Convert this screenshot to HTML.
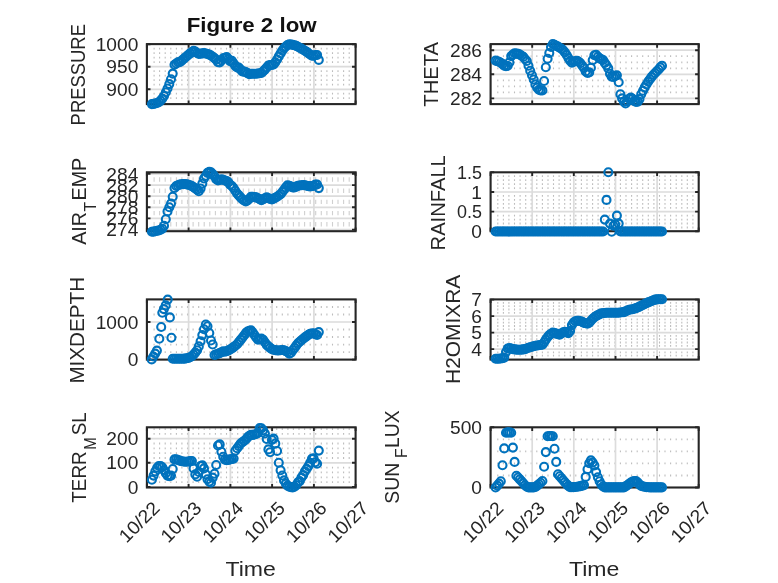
<!DOCTYPE html>
<html lang="en"><head><meta charset="utf-8"><title>Figure 2 low</title>
<style>html,body{margin:0;padding:0;background:#fff}svg{display:block;will-change:transform}</style></head>
<body>
<svg width="778" height="583" viewBox="0 0 778 583" font-family='"Liberation Sans", "DejaVu Sans", sans-serif' fill="#262626">
<rect width="778" height="583" fill="#ffffff"/>
<g id="ax00">
<path d="M154.1 47.8v1.8M154.1 52.3v1.8M154.1 56.8v1.8M154.1 61.3v1.8M154.1 70.3v1.8M154.1 74.8v1.8M154.1 79.3v1.8M154.1 83.8v1.8M154.1 92.8v1.8M154.1 97.3v1.8M159.6 47.8v1.8M159.6 52.3v1.8M159.6 56.8v1.8M159.6 61.3v1.8M159.6 70.3v1.8M159.6 74.8v1.8M159.6 79.3v1.8M159.6 83.8v1.8M159.6 92.8v1.8M159.6 97.3v1.8M165.2 47.8v1.8M165.2 52.3v1.8M165.2 56.8v1.8M165.2 61.3v1.8M165.2 70.3v1.8M165.2 74.8v1.8M165.2 79.3v1.8M165.2 83.8v1.8M165.2 92.8v1.8M165.2 97.3v1.8M170.8 47.8v1.8M170.8 52.3v1.8M170.8 56.8v1.8M170.8 61.3v1.8M170.8 70.3v1.8M170.8 74.8v1.8M170.8 79.3v1.8M170.8 83.8v1.8M170.8 92.8v1.8M170.8 97.3v1.8M176.4 47.8v1.8M176.4 52.3v1.8M176.4 56.8v1.8M176.4 61.3v1.8M176.4 70.3v1.8M176.4 74.8v1.8M176.4 79.3v1.8M176.4 83.8v1.8M176.4 92.8v1.8M176.4 97.3v1.8M181.9 47.8v1.8M181.9 52.3v1.8M181.9 56.8v1.8M181.9 61.3v1.8M181.9 70.3v1.8M181.9 74.8v1.8M181.9 79.3v1.8M181.9 83.8v1.8M181.9 92.8v1.8M181.9 97.3v1.8M187.5 47.8v1.8M187.5 52.3v1.8M187.5 56.8v1.8M187.5 61.3v1.8M187.5 70.3v1.8M187.5 74.8v1.8M187.5 79.3v1.8M187.5 83.8v1.8M187.5 92.8v1.8M187.5 97.3v1.8M193.1 47.8v1.8M193.1 52.3v1.8M193.1 56.8v1.8M193.1 61.3v1.8M193.1 70.3v1.8M193.1 74.8v1.8M193.1 79.3v1.8M193.1 83.8v1.8M193.1 92.8v1.8M193.1 97.3v1.8M198.7 47.8v1.8M198.7 52.3v1.8M198.7 56.8v1.8M198.7 61.3v1.8M198.7 70.3v1.8M198.7 74.8v1.8M198.7 79.3v1.8M198.7 83.8v1.8M198.7 92.8v1.8M198.7 97.3v1.8M204.2 47.8v1.8M204.2 52.3v1.8M204.2 56.8v1.8M204.2 61.3v1.8M204.2 70.3v1.8M204.2 74.8v1.8M204.2 79.3v1.8M204.2 83.8v1.8M204.2 92.8v1.8M204.2 97.3v1.8M209.8 47.8v1.8M209.8 52.3v1.8M209.8 56.8v1.8M209.8 61.3v1.8M209.8 70.3v1.8M209.8 74.8v1.8M209.8 79.3v1.8M209.8 83.8v1.8M209.8 92.8v1.8M209.8 97.3v1.8M215.4 47.8v1.8M215.4 52.3v1.8M215.4 56.8v1.8M215.4 61.3v1.8M215.4 70.3v1.8M215.4 74.8v1.8M215.4 79.3v1.8M215.4 83.8v1.8M215.4 92.8v1.8M215.4 97.3v1.8M221.0 47.8v1.8M221.0 52.3v1.8M221.0 56.8v1.8M221.0 61.3v1.8M221.0 70.3v1.8M221.0 74.8v1.8M221.0 79.3v1.8M221.0 83.8v1.8M221.0 92.8v1.8M221.0 97.3v1.8M226.5 47.8v1.8M226.5 52.3v1.8M226.5 56.8v1.8M226.5 61.3v1.8M226.5 70.3v1.8M226.5 74.8v1.8M226.5 79.3v1.8M226.5 83.8v1.8M226.5 92.8v1.8M226.5 97.3v1.8M232.1 47.8v1.8M232.1 52.3v1.8M232.1 56.8v1.8M232.1 61.3v1.8M232.1 70.3v1.8M232.1 74.8v1.8M232.1 79.3v1.8M232.1 83.8v1.8M232.1 92.8v1.8M232.1 97.3v1.8M237.7 47.8v1.8M237.7 52.3v1.8M237.7 56.8v1.8M237.7 61.3v1.8M237.7 70.3v1.8M237.7 74.8v1.8M237.7 79.3v1.8M237.7 83.8v1.8M237.7 92.8v1.8M237.7 97.3v1.8M243.3 47.8v1.8M243.3 52.3v1.8M243.3 56.8v1.8M243.3 61.3v1.8M243.3 70.3v1.8M243.3 74.8v1.8M243.3 79.3v1.8M243.3 83.8v1.8M243.3 92.8v1.8M243.3 97.3v1.8M248.8 47.8v1.8M248.8 52.3v1.8M248.8 56.8v1.8M248.8 61.3v1.8M248.8 70.3v1.8M248.8 74.8v1.8M248.8 79.3v1.8M248.8 83.8v1.8M248.8 92.8v1.8M248.8 97.3v1.8M254.4 47.8v1.8M254.4 52.3v1.8M254.4 56.8v1.8M254.4 61.3v1.8M254.4 70.3v1.8M254.4 74.8v1.8M254.4 79.3v1.8M254.4 83.8v1.8M254.4 92.8v1.8M254.4 97.3v1.8M260.0 47.8v1.8M260.0 52.3v1.8M260.0 56.8v1.8M260.0 61.3v1.8M260.0 70.3v1.8M260.0 74.8v1.8M260.0 79.3v1.8M260.0 83.8v1.8M260.0 92.8v1.8M260.0 97.3v1.8M265.6 47.8v1.8M265.6 52.3v1.8M265.6 56.8v1.8M265.6 61.3v1.8M265.6 70.3v1.8M265.6 74.8v1.8M265.6 79.3v1.8M265.6 83.8v1.8M265.6 92.8v1.8M265.6 97.3v1.8M271.1 47.8v1.8M271.1 52.3v1.8M271.1 56.8v1.8M271.1 61.3v1.8M271.1 70.3v1.8M271.1 74.8v1.8M271.1 79.3v1.8M271.1 83.8v1.8M271.1 92.8v1.8M271.1 97.3v1.8M276.7 47.8v1.8M276.7 52.3v1.8M276.7 56.8v1.8M276.7 61.3v1.8M276.7 70.3v1.8M276.7 74.8v1.8M276.7 79.3v1.8M276.7 83.8v1.8M276.7 92.8v1.8M276.7 97.3v1.8M282.3 47.8v1.8M282.3 52.3v1.8M282.3 56.8v1.8M282.3 61.3v1.8M282.3 70.3v1.8M282.3 74.8v1.8M282.3 79.3v1.8M282.3 83.8v1.8M282.3 92.8v1.8M282.3 97.3v1.8M287.9 47.8v1.8M287.9 52.3v1.8M287.9 56.8v1.8M287.9 61.3v1.8M287.9 70.3v1.8M287.9 74.8v1.8M287.9 79.3v1.8M287.9 83.8v1.8M287.9 92.8v1.8M287.9 97.3v1.8M293.4 47.8v1.8M293.4 52.3v1.8M293.4 56.8v1.8M293.4 61.3v1.8M293.4 70.3v1.8M293.4 74.8v1.8M293.4 79.3v1.8M293.4 83.8v1.8M293.4 92.8v1.8M293.4 97.3v1.8M299.0 47.8v1.8M299.0 52.3v1.8M299.0 56.8v1.8M299.0 61.3v1.8M299.0 70.3v1.8M299.0 74.8v1.8M299.0 79.3v1.8M299.0 83.8v1.8M299.0 92.8v1.8M299.0 97.3v1.8M304.6 47.8v1.8M304.6 52.3v1.8M304.6 56.8v1.8M304.6 61.3v1.8M304.6 70.3v1.8M304.6 74.8v1.8M304.6 79.3v1.8M304.6 83.8v1.8M304.6 92.8v1.8M304.6 97.3v1.8M310.2 47.8v1.8M310.2 52.3v1.8M310.2 56.8v1.8M310.2 61.3v1.8M310.2 70.3v1.8M310.2 74.8v1.8M310.2 79.3v1.8M310.2 83.8v1.8M310.2 92.8v1.8M310.2 97.3v1.8M315.7 47.8v1.8M315.7 52.3v1.8M315.7 56.8v1.8M315.7 61.3v1.8M315.7 70.3v1.8M315.7 74.8v1.8M315.7 79.3v1.8M315.7 83.8v1.8M315.7 92.8v1.8M315.7 97.3v1.8M321.3 47.8v1.8M321.3 52.3v1.8M321.3 56.8v1.8M321.3 61.3v1.8M321.3 70.3v1.8M321.3 74.8v1.8M321.3 79.3v1.8M321.3 83.8v1.8M321.3 92.8v1.8M321.3 97.3v1.8M326.9 47.8v1.8M326.9 52.3v1.8M326.9 56.8v1.8M326.9 61.3v1.8M326.9 70.3v1.8M326.9 74.8v1.8M326.9 79.3v1.8M326.9 83.8v1.8M326.9 92.8v1.8M326.9 97.3v1.8M332.5 47.8v1.8M332.5 52.3v1.8M332.5 56.8v1.8M332.5 61.3v1.8M332.5 70.3v1.8M332.5 74.8v1.8M332.5 79.3v1.8M332.5 83.8v1.8M332.5 92.8v1.8M332.5 97.3v1.8M338.0 47.8v1.8M338.0 52.3v1.8M338.0 56.8v1.8M338.0 61.3v1.8M338.0 70.3v1.8M338.0 74.8v1.8M338.0 79.3v1.8M338.0 83.8v1.8M338.0 92.8v1.8M338.0 97.3v1.8M343.6 47.8v1.8M343.6 52.3v1.8M343.6 56.8v1.8M343.6 61.3v1.8M343.6 70.3v1.8M343.6 74.8v1.8M343.6 79.3v1.8M343.6 83.8v1.8M343.6 92.8v1.8M343.6 97.3v1.8M349.2 47.8v1.8M349.2 52.3v1.8M349.2 56.8v1.8M349.2 61.3v1.8M349.2 70.3v1.8M349.2 74.8v1.8M349.2 79.3v1.8M349.2 83.8v1.8M349.2 92.8v1.8M349.2 97.3v1.8" stroke="#bdbdbd" stroke-width="1.1" fill="none"/>
<path d="M188.6 44.1V104.1M230.4 44.1V104.1M272.1 44.1V104.1M313.9 44.1V104.1M146.9 66.7H355.6M146.9 89.3H355.6" stroke="#dcdcdc" stroke-width="1.7" fill="none"/>
<path d="M146.9 104.1v-3.6M146.9 44.1v3.6M188.6 104.1v-3.6M188.6 44.1v3.6M230.4 104.1v-3.6M230.4 44.1v3.6M272.1 104.1v-3.6M272.1 44.1v3.6M313.9 104.1v-3.6M313.9 44.1v3.6M355.6 104.1v-3.6M355.6 44.1v3.6M146.9 44.2h3.6M355.6 44.2h-3.6M146.9 66.7h3.6M355.6 66.7h-3.6M146.9 89.3h3.6M355.6 89.3h-3.6" stroke="#262626" stroke-width="1.9" fill="none"/>
<rect x="146.9" y="44.1" width="208.7" height="60.0" fill="none" stroke="#262626" stroke-width="2.1"/>
<g fill="none" stroke="#0072BD" stroke-width="2.1">
<circle cx="151.9" cy="104.1" r="4"/><circle cx="153.6" cy="103.9" r="4"/><circle cx="155.3" cy="103.5" r="4"/><circle cx="157.1" cy="103.0" r="4"/><circle cx="158.8" cy="102.3" r="4"/><circle cx="160.6" cy="100.6" r="4"/><circle cx="162.3" cy="98.6" r="4"/><circle cx="164.0" cy="96.0" r="4"/><circle cx="165.8" cy="92.3" r="4"/><circle cx="167.5" cy="88.5" r="4"/><circle cx="169.3" cy="84.1" r="4"/><circle cx="171.0" cy="79.2" r="4"/><circle cx="172.7" cy="73.6" r="4"/><circle cx="174.5" cy="64.8" r="4"/><circle cx="176.2" cy="63.5" r="4"/><circle cx="178.0" cy="62.3" r="4"/><circle cx="179.7" cy="62.1" r="4"/><circle cx="181.4" cy="60.9" r="4"/><circle cx="183.2" cy="59.3" r="4"/><circle cx="184.9" cy="57.8" r="4"/><circle cx="186.7" cy="56.3" r="4"/><circle cx="188.4" cy="54.8" r="4"/><circle cx="190.1" cy="53.4" r="4"/><circle cx="191.9" cy="52.0" r="4"/><circle cx="193.6" cy="50.7" r="4"/><circle cx="195.3" cy="51.6" r="4"/><circle cx="197.1" cy="53.0" r="4"/><circle cx="198.8" cy="54.0" r="4"/><circle cx="200.6" cy="53.7" r="4"/><circle cx="202.3" cy="53.4" r="4"/><circle cx="204.0" cy="53.1" r="4"/><circle cx="205.8" cy="53.5" r="4"/><circle cx="207.5" cy="54.0" r="4"/><circle cx="209.3" cy="54.6" r="4"/><circle cx="211.0" cy="55.5" r="4"/><circle cx="212.7" cy="56.8" r="4"/><circle cx="214.5" cy="58.1" r="4"/><circle cx="216.2" cy="59.7" r="4"/><circle cx="218.0" cy="62.3" r="4"/><circle cx="219.7" cy="62.5" r="4"/><circle cx="221.4" cy="60.4" r="4"/><circle cx="223.2" cy="58.4" r="4"/><circle cx="224.9" cy="57.7" r="4"/><circle cx="226.7" cy="57.0" r="4"/><circle cx="228.4" cy="59.0" r="4"/><circle cx="230.1" cy="61.2" r="4"/><circle cx="231.9" cy="60.7" r="4"/><circle cx="233.6" cy="63.2" r="4"/><circle cx="235.3" cy="65.9" r="4"/><circle cx="237.1" cy="67.4" r="4"/><circle cx="238.8" cy="67.6" r="4"/><circle cx="240.6" cy="69.5" r="4"/><circle cx="242.3" cy="71.4" r="4"/><circle cx="244.0" cy="71.6" r="4"/><circle cx="245.8" cy="72.0" r="4"/><circle cx="247.5" cy="73.1" r="4"/><circle cx="249.3" cy="74.2" r="4"/><circle cx="251.0" cy="73.8" r="4"/><circle cx="252.7" cy="73.8" r="4"/><circle cx="254.5" cy="73.8" r="4"/><circle cx="256.2" cy="73.8" r="4"/><circle cx="258.0" cy="73.5" r="4"/><circle cx="259.7" cy="73.3" r="4"/><circle cx="261.4" cy="73.0" r="4"/><circle cx="263.2" cy="71.3" r="4"/><circle cx="264.9" cy="69.6" r="4"/><circle cx="266.7" cy="67.5" r="4"/><circle cx="268.4" cy="65.5" r="4"/><circle cx="270.1" cy="65.0" r="4"/><circle cx="271.9" cy="65.0" r="4"/><circle cx="273.6" cy="64.4" r="4"/><circle cx="275.3" cy="62.3" r="4"/><circle cx="277.1" cy="59.5" r="4"/><circle cx="278.8" cy="56.4" r="4"/><circle cx="280.6" cy="53.4" r="4"/><circle cx="282.3" cy="50.6" r="4"/><circle cx="284.0" cy="48.3" r="4"/><circle cx="285.8" cy="46.5" r="4"/><circle cx="287.5" cy="45.0" r="4"/><circle cx="289.3" cy="44.2" r="4"/><circle cx="291.0" cy="44.5" r="4"/><circle cx="292.7" cy="44.9" r="4"/><circle cx="294.5" cy="45.2" r="4"/><circle cx="296.2" cy="45.9" r="4"/><circle cx="298.0" cy="46.8" r="4"/><circle cx="299.7" cy="47.7" r="4"/><circle cx="301.4" cy="48.6" r="4"/><circle cx="303.2" cy="49.7" r="4"/><circle cx="304.9" cy="50.8" r="4"/><circle cx="306.7" cy="51.9" r="4"/><circle cx="308.4" cy="53.2" r="4"/><circle cx="310.1" cy="54.5" r="4"/><circle cx="311.9" cy="55.8" r="4"/><circle cx="313.6" cy="55.8" r="4"/><circle cx="315.3" cy="55.1" r="4"/><circle cx="317.1" cy="55.0" r="4"/><circle cx="318.8" cy="59.9" r="4"/>
</g>
<g font-size="18.6" text-anchor="end">
<text transform="translate(138.3,50.8) scale(1.03,1)">1000</text>
<text transform="translate(138.3,73.3) scale(1.03,1)">950</text>
<text transform="translate(138.3,95.9) scale(1.03,1)">900</text>
</g>
<text transform="translate(84.7,125.4) rotate(-90) scale(0.895,1)" font-size="20.6">PRESSURE</text>
</g>
<g id="ax01">
<path d="M497.8 55.3v1.8M497.8 61.4v1.8M497.8 67.4v1.8M497.8 79.4v1.8M497.8 85.4v1.8M497.8 91.5v1.8M503.4 55.3v1.8M503.4 61.4v1.8M503.4 67.4v1.8M503.4 79.4v1.8M503.4 85.4v1.8M503.4 91.5v1.8M508.9 55.3v1.8M508.9 61.4v1.8M508.9 67.4v1.8M508.9 79.4v1.8M508.9 85.4v1.8M508.9 91.5v1.8M514.5 55.3v1.8M514.5 61.4v1.8M514.5 67.4v1.8M514.5 79.4v1.8M514.5 85.4v1.8M514.5 91.5v1.8M520.1 55.3v1.8M520.1 61.4v1.8M520.1 67.4v1.8M520.1 79.4v1.8M520.1 85.4v1.8M520.1 91.5v1.8M525.7 55.3v1.8M525.7 61.4v1.8M525.7 67.4v1.8M525.7 79.4v1.8M525.7 85.4v1.8M525.7 91.5v1.8M531.2 55.3v1.8M531.2 61.4v1.8M531.2 67.4v1.8M531.2 79.4v1.8M531.2 85.4v1.8M531.2 91.5v1.8M536.8 55.3v1.8M536.8 61.4v1.8M536.8 67.4v1.8M536.8 79.4v1.8M536.8 85.4v1.8M536.8 91.5v1.8M542.4 55.3v1.8M542.4 61.4v1.8M542.4 67.4v1.8M542.4 79.4v1.8M542.4 85.4v1.8M542.4 91.5v1.8M548.0 55.3v1.8M548.0 61.4v1.8M548.0 67.4v1.8M548.0 79.4v1.8M548.0 85.4v1.8M548.0 91.5v1.8M553.5 55.3v1.8M553.5 61.4v1.8M553.5 67.4v1.8M553.5 79.4v1.8M553.5 85.4v1.8M553.5 91.5v1.8M559.1 55.3v1.8M559.1 61.4v1.8M559.1 67.4v1.8M559.1 79.4v1.8M559.1 85.4v1.8M559.1 91.5v1.8M564.7 55.3v1.8M564.7 61.4v1.8M564.7 67.4v1.8M564.7 79.4v1.8M564.7 85.4v1.8M564.7 91.5v1.8M570.3 55.3v1.8M570.3 61.4v1.8M570.3 67.4v1.8M570.3 79.4v1.8M570.3 85.4v1.8M570.3 91.5v1.8M575.8 55.3v1.8M575.8 61.4v1.8M575.8 67.4v1.8M575.8 79.4v1.8M575.8 85.4v1.8M575.8 91.5v1.8M581.4 55.3v1.8M581.4 61.4v1.8M581.4 67.4v1.8M581.4 79.4v1.8M581.4 85.4v1.8M581.4 91.5v1.8M587.0 55.3v1.8M587.0 61.4v1.8M587.0 67.4v1.8M587.0 79.4v1.8M587.0 85.4v1.8M587.0 91.5v1.8M592.6 55.3v1.8M592.6 61.4v1.8M592.6 67.4v1.8M592.6 79.4v1.8M592.6 85.4v1.8M592.6 91.5v1.8M598.1 55.3v1.8M598.1 61.4v1.8M598.1 67.4v1.8M598.1 79.4v1.8M598.1 85.4v1.8M598.1 91.5v1.8M603.7 55.3v1.8M603.7 61.4v1.8M603.7 67.4v1.8M603.7 79.4v1.8M603.7 85.4v1.8M603.7 91.5v1.8M609.3 55.3v1.8M609.3 61.4v1.8M609.3 67.4v1.8M609.3 79.4v1.8M609.3 85.4v1.8M609.3 91.5v1.8M614.9 55.3v1.8M614.9 61.4v1.8M614.9 67.4v1.8M614.9 79.4v1.8M614.9 85.4v1.8M614.9 91.5v1.8M620.4 55.3v1.8M620.4 61.4v1.8M620.4 67.4v1.8M620.4 79.4v1.8M620.4 85.4v1.8M620.4 91.5v1.8M626.0 55.3v1.8M626.0 61.4v1.8M626.0 67.4v1.8M626.0 79.4v1.8M626.0 85.4v1.8M626.0 91.5v1.8M631.6 55.3v1.8M631.6 61.4v1.8M631.6 67.4v1.8M631.6 79.4v1.8M631.6 85.4v1.8M631.6 91.5v1.8M637.2 55.3v1.8M637.2 61.4v1.8M637.2 67.4v1.8M637.2 79.4v1.8M637.2 85.4v1.8M637.2 91.5v1.8M642.7 55.3v1.8M642.7 61.4v1.8M642.7 67.4v1.8M642.7 79.4v1.8M642.7 85.4v1.8M642.7 91.5v1.8M648.3 55.3v1.8M648.3 61.4v1.8M648.3 67.4v1.8M648.3 79.4v1.8M648.3 85.4v1.8M648.3 91.5v1.8M653.9 55.3v1.8M653.9 61.4v1.8M653.9 67.4v1.8M653.9 79.4v1.8M653.9 85.4v1.8M653.9 91.5v1.8M659.5 55.3v1.8M659.5 61.4v1.8M659.5 67.4v1.8M659.5 79.4v1.8M659.5 85.4v1.8M659.5 91.5v1.8M665.0 55.3v1.8M665.0 61.4v1.8M665.0 67.4v1.8M665.0 79.4v1.8M665.0 85.4v1.8M665.0 91.5v1.8M670.6 55.3v1.8M670.6 61.4v1.8M670.6 67.4v1.8M670.6 79.4v1.8M670.6 85.4v1.8M670.6 91.5v1.8M676.2 55.3v1.8M676.2 61.4v1.8M676.2 67.4v1.8M676.2 79.4v1.8M676.2 85.4v1.8M676.2 91.5v1.8M681.8 55.3v1.8M681.8 61.4v1.8M681.8 67.4v1.8M681.8 79.4v1.8M681.8 85.4v1.8M681.8 91.5v1.8M687.3 55.3v1.8M687.3 61.4v1.8M687.3 67.4v1.8M687.3 79.4v1.8M687.3 85.4v1.8M687.3 91.5v1.8M692.9 55.3v1.8M692.9 61.4v1.8M692.9 67.4v1.8M692.9 79.4v1.8M692.9 85.4v1.8M692.9 91.5v1.8" stroke="#bdbdbd" stroke-width="1.1" fill="none"/>
<path d="M532.2 44.1V104.1M573.8 44.1V104.1M615.5 44.1V104.1M657.1 44.1V104.1M490.6 50.2H698.7M490.6 74.3H698.7M490.6 98.4H698.7" stroke="#dcdcdc" stroke-width="1.7" fill="none"/>
<path d="M490.6 104.1v-3.6M490.6 44.1v3.6M532.2 104.1v-3.6M532.2 44.1v3.6M573.8 104.1v-3.6M573.8 44.1v3.6M615.5 104.1v-3.6M615.5 44.1v3.6M657.1 104.1v-3.6M657.1 44.1v3.6M698.7 104.1v-3.6M698.7 44.1v3.6M490.6 50.2h3.6M698.7 50.2h-3.6M490.6 74.3h3.6M698.7 74.3h-3.6M490.6 98.4h3.6M698.7 98.4h-3.6" stroke="#262626" stroke-width="1.9" fill="none"/>
<rect x="490.6" y="44.1" width="208.1" height="60.0" fill="none" stroke="#262626" stroke-width="2.1"/>
<g fill="none" stroke="#0072BD" stroke-width="2.1">
<circle cx="495.6" cy="60.6" r="4"/><circle cx="497.3" cy="61.2" r="4"/><circle cx="499.0" cy="61.8" r="4"/><circle cx="500.8" cy="62.7" r="4"/><circle cx="502.5" cy="64.1" r="4"/><circle cx="504.2" cy="65.6" r="4"/><circle cx="506.0" cy="66.1" r="4"/><circle cx="507.7" cy="65.8" r="4"/><circle cx="509.4" cy="62.4" r="4"/><circle cx="511.2" cy="56.1" r="4"/><circle cx="512.9" cy="54.5" r="4"/><circle cx="514.6" cy="53.3" r="4"/><circle cx="516.4" cy="53.6" r="4"/><circle cx="518.1" cy="53.9" r="4"/><circle cx="519.8" cy="54.6" r="4"/><circle cx="521.6" cy="55.8" r="4"/><circle cx="523.3" cy="56.9" r="4"/><circle cx="525.0" cy="59.0" r="4"/><circle cx="526.8" cy="61.0" r="4"/><circle cx="528.5" cy="65.8" r="4"/><circle cx="530.2" cy="70.8" r="4"/><circle cx="532.0" cy="75.2" r="4"/><circle cx="533.7" cy="79.5" r="4"/><circle cx="535.4" cy="84.4" r="4"/><circle cx="537.2" cy="87.7" r="4"/><circle cx="538.9" cy="89.7" r="4"/><circle cx="540.6" cy="90.5" r="4"/><circle cx="542.4" cy="90.4" r="4"/><circle cx="544.1" cy="81.0" r="4"/><circle cx="545.8" cy="67.3" r="4"/><circle cx="547.6" cy="58.8" r="4"/><circle cx="549.3" cy="53.0" r="4"/><circle cx="551.0" cy="47.0" r="4"/><circle cx="552.8" cy="44.0" r="4"/><circle cx="554.5" cy="44.8" r="4"/><circle cx="556.2" cy="45.7" r="4"/><circle cx="558.0" cy="46.6" r="4"/><circle cx="559.7" cy="47.7" r="4"/><circle cx="561.5" cy="48.8" r="4"/><circle cx="563.2" cy="50.2" r="4"/><circle cx="564.9" cy="52.4" r="4"/><circle cx="566.7" cy="55.0" r="4"/><circle cx="568.4" cy="58.1" r="4"/><circle cx="570.1" cy="60.7" r="4"/><circle cx="571.9" cy="62.7" r="4"/><circle cx="573.6" cy="61.8" r="4"/><circle cx="575.3" cy="61.1" r="4"/><circle cx="577.1" cy="60.7" r="4"/><circle cx="578.8" cy="61.7" r="4"/><circle cx="580.5" cy="63.2" r="4"/><circle cx="582.3" cy="65.8" r="4"/><circle cx="584.0" cy="68.0" r="4"/><circle cx="585.7" cy="71.5" r="4"/><circle cx="587.5" cy="72.9" r="4"/><circle cx="589.2" cy="72.4" r="4"/><circle cx="590.9" cy="67.7" r="4"/><circle cx="592.7" cy="60.1" r="4"/><circle cx="594.4" cy="55.3" r="4"/><circle cx="596.1" cy="54.9" r="4"/><circle cx="597.9" cy="56.7" r="4"/><circle cx="599.6" cy="58.4" r="4"/><circle cx="601.3" cy="59.2" r="4"/><circle cx="603.1" cy="60.0" r="4"/><circle cx="604.8" cy="62.9" r="4"/><circle cx="606.5" cy="65.2" r="4"/><circle cx="608.3" cy="68.4" r="4"/><circle cx="610.0" cy="73.7" r="4"/><circle cx="611.7" cy="76.7" r="4"/><circle cx="613.5" cy="76.9" r="4"/><circle cx="615.2" cy="75.9" r="4"/><circle cx="616.9" cy="75.3" r="4"/><circle cx="618.7" cy="82.3" r="4"/><circle cx="620.4" cy="94.3" r="4"/><circle cx="622.1" cy="98.4" r="4"/><circle cx="623.9" cy="101.7" r="4"/><circle cx="625.6" cy="103.4" r="4"/><circle cx="627.3" cy="101.2" r="4"/><circle cx="629.1" cy="98.7" r="4"/><circle cx="630.8" cy="97.5" r="4"/><circle cx="632.6" cy="98.7" r="4"/><circle cx="634.3" cy="101.0" r="4"/><circle cx="636.0" cy="101.9" r="4"/><circle cx="637.8" cy="101.6" r="4"/><circle cx="639.5" cy="99.1" r="4"/><circle cx="641.2" cy="94.2" r="4"/><circle cx="643.0" cy="90.7" r="4"/><circle cx="644.7" cy="87.4" r="4"/><circle cx="646.4" cy="84.5" r="4"/><circle cx="648.2" cy="81.6" r="4"/><circle cx="649.9" cy="79.2" r="4"/><circle cx="651.6" cy="76.9" r="4"/><circle cx="653.4" cy="74.7" r="4"/><circle cx="655.1" cy="73.0" r="4"/><circle cx="656.8" cy="71.3" r="4"/><circle cx="658.6" cy="69.5" r="4"/><circle cx="660.3" cy="67.4" r="4"/><circle cx="662.0" cy="65.7" r="4"/>
</g>
<g font-size="18.6" text-anchor="end">
<text transform="translate(482.0,56.8) scale(1.03,1)">286</text>
<text transform="translate(482.0,80.9) scale(1.03,1)">284</text>
<text transform="translate(482.0,105.0) scale(1.03,1)">282</text>
</g>
<text transform="translate(437.7,106.7) rotate(-90) scale(0.983,1)" font-size="20.6">THETA</text>
</g>
<g id="ax10">
<path d="M154.1 177.3v4.4M154.1 188.5v4.4M154.1 199.7v4.4M154.1 210.9v4.4M154.1 222.1v4.4M159.6 177.3v4.4M159.6 188.5v4.4M159.6 199.7v4.4M159.6 210.9v4.4M159.6 222.1v4.4M165.2 177.3v4.4M165.2 188.5v4.4M165.2 199.7v4.4M165.2 210.9v4.4M165.2 222.1v4.4M170.8 177.3v4.4M170.8 188.5v4.4M170.8 199.7v4.4M170.8 210.9v4.4M170.8 222.1v4.4M176.4 177.3v4.4M176.4 188.5v4.4M176.4 199.7v4.4M176.4 210.9v4.4M176.4 222.1v4.4M181.9 177.3v4.4M181.9 188.5v4.4M181.9 199.7v4.4M181.9 210.9v4.4M181.9 222.1v4.4M187.5 177.3v4.4M187.5 188.5v4.4M187.5 199.7v4.4M187.5 210.9v4.4M187.5 222.1v4.4M193.1 177.3v4.4M193.1 188.5v4.4M193.1 199.7v4.4M193.1 210.9v4.4M193.1 222.1v4.4M198.7 177.3v4.4M198.7 188.5v4.4M198.7 199.7v4.4M198.7 210.9v4.4M198.7 222.1v4.4M204.2 177.3v4.4M204.2 188.5v4.4M204.2 199.7v4.4M204.2 210.9v4.4M204.2 222.1v4.4M209.8 177.3v4.4M209.8 188.5v4.4M209.8 199.7v4.4M209.8 210.9v4.4M209.8 222.1v4.4M215.4 177.3v4.4M215.4 188.5v4.4M215.4 199.7v4.4M215.4 210.9v4.4M215.4 222.1v4.4M221.0 177.3v4.4M221.0 188.5v4.4M221.0 199.7v4.4M221.0 210.9v4.4M221.0 222.1v4.4M226.5 177.3v4.4M226.5 188.5v4.4M226.5 199.7v4.4M226.5 210.9v4.4M226.5 222.1v4.4M232.1 177.3v4.4M232.1 188.5v4.4M232.1 199.7v4.4M232.1 210.9v4.4M232.1 222.1v4.4M237.7 177.3v4.4M237.7 188.5v4.4M237.7 199.7v4.4M237.7 210.9v4.4M237.7 222.1v4.4M243.3 177.3v4.4M243.3 188.5v4.4M243.3 199.7v4.4M243.3 210.9v4.4M243.3 222.1v4.4M248.8 177.3v4.4M248.8 188.5v4.4M248.8 199.7v4.4M248.8 210.9v4.4M248.8 222.1v4.4M254.4 177.3v4.4M254.4 188.5v4.4M254.4 199.7v4.4M254.4 210.9v4.4M254.4 222.1v4.4M260.0 177.3v4.4M260.0 188.5v4.4M260.0 199.7v4.4M260.0 210.9v4.4M260.0 222.1v4.4M265.6 177.3v4.4M265.6 188.5v4.4M265.6 199.7v4.4M265.6 210.9v4.4M265.6 222.1v4.4M271.1 177.3v4.4M271.1 188.5v4.4M271.1 199.7v4.4M271.1 210.9v4.4M271.1 222.1v4.4M276.7 177.3v4.4M276.7 188.5v4.4M276.7 199.7v4.4M276.7 210.9v4.4M276.7 222.1v4.4M282.3 177.3v4.4M282.3 188.5v4.4M282.3 199.7v4.4M282.3 210.9v4.4M282.3 222.1v4.4M287.9 177.3v4.4M287.9 188.5v4.4M287.9 199.7v4.4M287.9 210.9v4.4M287.9 222.1v4.4M293.4 177.3v4.4M293.4 188.5v4.4M293.4 199.7v4.4M293.4 210.9v4.4M293.4 222.1v4.4M299.0 177.3v4.4M299.0 188.5v4.4M299.0 199.7v4.4M299.0 210.9v4.4M299.0 222.1v4.4M304.6 177.3v4.4M304.6 188.5v4.4M304.6 199.7v4.4M304.6 210.9v4.4M304.6 222.1v4.4M310.2 177.3v4.4M310.2 188.5v4.4M310.2 199.7v4.4M310.2 210.9v4.4M310.2 222.1v4.4M315.7 177.3v4.4M315.7 188.5v4.4M315.7 199.7v4.4M315.7 210.9v4.4M315.7 222.1v4.4M321.3 177.3v4.4M321.3 188.5v4.4M321.3 199.7v4.4M321.3 210.9v4.4M321.3 222.1v4.4M326.9 177.3v4.4M326.9 188.5v4.4M326.9 199.7v4.4M326.9 210.9v4.4M326.9 222.1v4.4M332.5 177.3v4.4M332.5 188.5v4.4M332.5 199.7v4.4M332.5 210.9v4.4M332.5 222.1v4.4M338.0 177.3v4.4M338.0 188.5v4.4M338.0 199.7v4.4M338.0 210.9v4.4M338.0 222.1v4.4M343.6 177.3v4.4M343.6 188.5v4.4M343.6 199.7v4.4M343.6 210.9v4.4M343.6 222.1v4.4M349.2 177.3v4.4M349.2 188.5v4.4M349.2 199.7v4.4M349.2 210.9v4.4M349.2 222.1v4.4" stroke="#d0d0d0" stroke-width="1.1" fill="none"/>
<path d="M188.6 172.3V231.2M230.4 172.3V231.2M272.1 172.3V231.2M313.9 172.3V231.2M146.9 173.9H355.6M146.9 185.1H355.6M146.9 196.2H355.6M146.9 207.3H355.6M146.9 218.4H355.6M146.9 229.6H355.6" stroke="#dcdcdc" stroke-width="1.7" fill="none"/>
<path d="M146.9 231.2v-3.6M146.9 172.3v3.6M188.6 231.2v-3.6M188.6 172.3v3.6M230.4 231.2v-3.6M230.4 172.3v3.6M272.1 231.2v-3.6M272.1 172.3v3.6M313.9 231.2v-3.6M313.9 172.3v3.6M355.6 231.2v-3.6M355.6 172.3v3.6M146.9 173.9h3.6M355.6 173.9h-3.6M146.9 185.1h3.6M355.6 185.1h-3.6M146.9 196.2h3.6M355.6 196.2h-3.6M146.9 207.3h3.6M355.6 207.3h-3.6M146.9 218.4h3.6M355.6 218.4h-3.6M146.9 229.6h3.6M355.6 229.6h-3.6" stroke="#262626" stroke-width="1.9" fill="none"/>
<rect x="146.9" y="172.3" width="208.7" height="58.9" fill="none" stroke="#262626" stroke-width="2.1"/>
<g fill="none" stroke="#0072BD" stroke-width="2.1">
<circle cx="151.9" cy="231.7" r="4"/><circle cx="153.6" cy="231.6" r="4"/><circle cx="155.3" cy="231.2" r="4"/><circle cx="157.1" cy="230.8" r="4"/><circle cx="158.8" cy="230.5" r="4"/><circle cx="160.6" cy="229.8" r="4"/><circle cx="162.3" cy="228.7" r="4"/><circle cx="164.0" cy="225.8" r="4"/><circle cx="165.8" cy="219.2" r="4"/><circle cx="167.5" cy="211.4" r="4"/><circle cx="169.3" cy="207.2" r="4"/><circle cx="171.0" cy="203.6" r="4"/><circle cx="172.7" cy="196.8" r="4"/><circle cx="174.5" cy="188.0" r="4"/><circle cx="176.2" cy="186.0" r="4"/><circle cx="178.0" cy="185.4" r="4"/><circle cx="179.7" cy="184.5" r="4"/><circle cx="181.4" cy="184.3" r="4"/><circle cx="183.2" cy="184.1" r="4"/><circle cx="184.9" cy="184.0" r="4"/><circle cx="186.7" cy="184.4" r="4"/><circle cx="188.4" cy="184.8" r="4"/><circle cx="190.1" cy="185.3" r="4"/><circle cx="191.9" cy="186.1" r="4"/><circle cx="193.6" cy="187.3" r="4"/><circle cx="195.3" cy="188.4" r="4"/><circle cx="197.1" cy="189.8" r="4"/><circle cx="198.8" cy="191.2" r="4"/><circle cx="200.6" cy="188.5" r="4"/><circle cx="202.3" cy="183.6" r="4"/><circle cx="204.0" cy="178.5" r="4"/><circle cx="205.8" cy="175.7" r="4"/><circle cx="207.5" cy="172.9" r="4"/><circle cx="209.3" cy="171.9" r="4"/><circle cx="211.0" cy="172.4" r="4"/><circle cx="212.7" cy="174.1" r="4"/><circle cx="214.5" cy="176.2" r="4"/><circle cx="216.2" cy="179.2" r="4"/><circle cx="218.0" cy="180.5" r="4"/><circle cx="219.7" cy="180.0" r="4"/><circle cx="221.4" cy="179.4" r="4"/><circle cx="223.2" cy="179.8" r="4"/><circle cx="224.9" cy="180.5" r="4"/><circle cx="226.7" cy="181.1" r="4"/><circle cx="228.4" cy="182.3" r="4"/><circle cx="230.1" cy="184.7" r="4"/><circle cx="231.9" cy="186.0" r="4"/><circle cx="233.6" cy="188.0" r="4"/><circle cx="235.3" cy="190.8" r="4"/><circle cx="237.1" cy="193.5" r="4"/><circle cx="238.8" cy="195.4" r="4"/><circle cx="240.6" cy="197.4" r="4"/><circle cx="242.3" cy="199.3" r="4"/><circle cx="244.0" cy="200.5" r="4"/><circle cx="245.8" cy="201.5" r="4"/><circle cx="247.5" cy="200.4" r="4"/><circle cx="249.3" cy="198.7" r="4"/><circle cx="251.0" cy="196.9" r="4"/><circle cx="252.7" cy="196.9" r="4"/><circle cx="254.5" cy="197.1" r="4"/><circle cx="256.2" cy="197.4" r="4"/><circle cx="258.0" cy="198.3" r="4"/><circle cx="259.7" cy="199.3" r="4"/><circle cx="261.4" cy="200.3" r="4"/><circle cx="263.2" cy="199.3" r="4"/><circle cx="264.9" cy="198.3" r="4"/><circle cx="266.7" cy="197.4" r="4"/><circle cx="268.4" cy="198.2" r="4"/><circle cx="270.1" cy="198.9" r="4"/><circle cx="271.9" cy="199.5" r="4"/><circle cx="273.6" cy="198.6" r="4"/><circle cx="275.3" cy="197.7" r="4"/><circle cx="277.1" cy="196.7" r="4"/><circle cx="278.8" cy="195.5" r="4"/><circle cx="280.6" cy="194.3" r="4"/><circle cx="282.3" cy="192.0" r="4"/><circle cx="284.0" cy="189.7" r="4"/><circle cx="285.8" cy="187.4" r="4"/><circle cx="287.5" cy="185.2" r="4"/><circle cx="289.3" cy="185.8" r="4"/><circle cx="291.0" cy="186.6" r="4"/><circle cx="292.7" cy="187.5" r="4"/><circle cx="294.5" cy="187.4" r="4"/><circle cx="296.2" cy="186.6" r="4"/><circle cx="298.0" cy="185.7" r="4"/><circle cx="299.7" cy="185.5" r="4"/><circle cx="301.4" cy="185.3" r="4"/><circle cx="303.2" cy="185.1" r="4"/><circle cx="304.9" cy="185.3" r="4"/><circle cx="306.7" cy="185.7" r="4"/><circle cx="308.4" cy="186.1" r="4"/><circle cx="310.1" cy="186.4" r="4"/><circle cx="311.9" cy="186.1" r="4"/><circle cx="313.6" cy="185.8" r="4"/><circle cx="315.3" cy="184.6" r="4"/><circle cx="317.1" cy="184.5" r="4"/><circle cx="318.8" cy="188.1" r="4"/>
</g>
<g font-size="18.6" text-anchor="end">
<text transform="translate(138.3,180.5) scale(1.03,1)">284</text>
<text transform="translate(138.3,191.7) scale(1.03,1)">282</text>
<text transform="translate(138.3,202.8) scale(1.03,1)">280</text>
<text transform="translate(138.3,213.9) scale(1.03,1)">278</text>
<text transform="translate(138.3,225.0) scale(1.03,1)">276</text>
<text transform="translate(138.3,236.2) scale(1.03,1)">274</text>
</g>
<text transform="translate(85.7,244.4) rotate(-90) scale(0.960,1)" font-size="20.6"><tspan x="-0.5" y="0">AIR</tspan><tspan x="34.4" y="9.9" font-size="16.6">T</tspan><tspan x="45.7" y="0">EMP</tspan></text>
</g>
<g id="ax11">
<path d="M497.8 175.3v1.8M497.8 179.3v1.8M497.8 183.2v1.8M497.8 187.2v1.8M497.8 195.0v1.8M497.8 199.0v1.8M497.8 202.9v1.8M497.8 206.9v1.8M497.8 214.7v1.8M497.8 218.7v1.8M497.8 222.6v1.8M497.8 226.6v1.8M503.4 175.3v1.8M503.4 179.3v1.8M503.4 183.2v1.8M503.4 187.2v1.8M503.4 195.0v1.8M503.4 199.0v1.8M503.4 202.9v1.8M503.4 206.9v1.8M503.4 214.7v1.8M503.4 218.7v1.8M503.4 222.6v1.8M503.4 226.6v1.8M508.9 175.3v1.8M508.9 179.3v1.8M508.9 183.2v1.8M508.9 187.2v1.8M508.9 195.0v1.8M508.9 199.0v1.8M508.9 202.9v1.8M508.9 206.9v1.8M508.9 214.7v1.8M508.9 218.7v1.8M508.9 222.6v1.8M508.9 226.6v1.8M514.5 175.3v1.8M514.5 179.3v1.8M514.5 183.2v1.8M514.5 187.2v1.8M514.5 195.0v1.8M514.5 199.0v1.8M514.5 202.9v1.8M514.5 206.9v1.8M514.5 214.7v1.8M514.5 218.7v1.8M514.5 222.6v1.8M514.5 226.6v1.8M520.1 175.3v1.8M520.1 179.3v1.8M520.1 183.2v1.8M520.1 187.2v1.8M520.1 195.0v1.8M520.1 199.0v1.8M520.1 202.9v1.8M520.1 206.9v1.8M520.1 214.7v1.8M520.1 218.7v1.8M520.1 222.6v1.8M520.1 226.6v1.8M525.7 175.3v1.8M525.7 179.3v1.8M525.7 183.2v1.8M525.7 187.2v1.8M525.7 195.0v1.8M525.7 199.0v1.8M525.7 202.9v1.8M525.7 206.9v1.8M525.7 214.7v1.8M525.7 218.7v1.8M525.7 222.6v1.8M525.7 226.6v1.8M531.2 175.3v1.8M531.2 179.3v1.8M531.2 183.2v1.8M531.2 187.2v1.8M531.2 195.0v1.8M531.2 199.0v1.8M531.2 202.9v1.8M531.2 206.9v1.8M531.2 214.7v1.8M531.2 218.7v1.8M531.2 222.6v1.8M531.2 226.6v1.8M536.8 175.3v1.8M536.8 179.3v1.8M536.8 183.2v1.8M536.8 187.2v1.8M536.8 195.0v1.8M536.8 199.0v1.8M536.8 202.9v1.8M536.8 206.9v1.8M536.8 214.7v1.8M536.8 218.7v1.8M536.8 222.6v1.8M536.8 226.6v1.8M542.4 175.3v1.8M542.4 179.3v1.8M542.4 183.2v1.8M542.4 187.2v1.8M542.4 195.0v1.8M542.4 199.0v1.8M542.4 202.9v1.8M542.4 206.9v1.8M542.4 214.7v1.8M542.4 218.7v1.8M542.4 222.6v1.8M542.4 226.6v1.8M548.0 175.3v1.8M548.0 179.3v1.8M548.0 183.2v1.8M548.0 187.2v1.8M548.0 195.0v1.8M548.0 199.0v1.8M548.0 202.9v1.8M548.0 206.9v1.8M548.0 214.7v1.8M548.0 218.7v1.8M548.0 222.6v1.8M548.0 226.6v1.8M553.5 175.3v1.8M553.5 179.3v1.8M553.5 183.2v1.8M553.5 187.2v1.8M553.5 195.0v1.8M553.5 199.0v1.8M553.5 202.9v1.8M553.5 206.9v1.8M553.5 214.7v1.8M553.5 218.7v1.8M553.5 222.6v1.8M553.5 226.6v1.8M559.1 175.3v1.8M559.1 179.3v1.8M559.1 183.2v1.8M559.1 187.2v1.8M559.1 195.0v1.8M559.1 199.0v1.8M559.1 202.9v1.8M559.1 206.9v1.8M559.1 214.7v1.8M559.1 218.7v1.8M559.1 222.6v1.8M559.1 226.6v1.8M564.7 175.3v1.8M564.7 179.3v1.8M564.7 183.2v1.8M564.7 187.2v1.8M564.7 195.0v1.8M564.7 199.0v1.8M564.7 202.9v1.8M564.7 206.9v1.8M564.7 214.7v1.8M564.7 218.7v1.8M564.7 222.6v1.8M564.7 226.6v1.8M570.3 175.3v1.8M570.3 179.3v1.8M570.3 183.2v1.8M570.3 187.2v1.8M570.3 195.0v1.8M570.3 199.0v1.8M570.3 202.9v1.8M570.3 206.9v1.8M570.3 214.7v1.8M570.3 218.7v1.8M570.3 222.6v1.8M570.3 226.6v1.8M575.8 175.3v1.8M575.8 179.3v1.8M575.8 183.2v1.8M575.8 187.2v1.8M575.8 195.0v1.8M575.8 199.0v1.8M575.8 202.9v1.8M575.8 206.9v1.8M575.8 214.7v1.8M575.8 218.7v1.8M575.8 222.6v1.8M575.8 226.6v1.8M581.4 175.3v1.8M581.4 179.3v1.8M581.4 183.2v1.8M581.4 187.2v1.8M581.4 195.0v1.8M581.4 199.0v1.8M581.4 202.9v1.8M581.4 206.9v1.8M581.4 214.7v1.8M581.4 218.7v1.8M581.4 222.6v1.8M581.4 226.6v1.8M587.0 175.3v1.8M587.0 179.3v1.8M587.0 183.2v1.8M587.0 187.2v1.8M587.0 195.0v1.8M587.0 199.0v1.8M587.0 202.9v1.8M587.0 206.9v1.8M587.0 214.7v1.8M587.0 218.7v1.8M587.0 222.6v1.8M587.0 226.6v1.8M592.6 175.3v1.8M592.6 179.3v1.8M592.6 183.2v1.8M592.6 187.2v1.8M592.6 195.0v1.8M592.6 199.0v1.8M592.6 202.9v1.8M592.6 206.9v1.8M592.6 214.7v1.8M592.6 218.7v1.8M592.6 222.6v1.8M592.6 226.6v1.8M598.1 175.3v1.8M598.1 179.3v1.8M598.1 183.2v1.8M598.1 187.2v1.8M598.1 195.0v1.8M598.1 199.0v1.8M598.1 202.9v1.8M598.1 206.9v1.8M598.1 214.7v1.8M598.1 218.7v1.8M598.1 222.6v1.8M598.1 226.6v1.8M603.7 175.3v1.8M603.7 179.3v1.8M603.7 183.2v1.8M603.7 187.2v1.8M603.7 195.0v1.8M603.7 199.0v1.8M603.7 202.9v1.8M603.7 206.9v1.8M603.7 214.7v1.8M603.7 218.7v1.8M603.7 222.6v1.8M603.7 226.6v1.8M609.3 175.3v1.8M609.3 179.3v1.8M609.3 183.2v1.8M609.3 187.2v1.8M609.3 195.0v1.8M609.3 199.0v1.8M609.3 202.9v1.8M609.3 206.9v1.8M609.3 214.7v1.8M609.3 218.7v1.8M609.3 222.6v1.8M609.3 226.6v1.8M614.9 175.3v1.8M614.9 179.3v1.8M614.9 183.2v1.8M614.9 187.2v1.8M614.9 195.0v1.8M614.9 199.0v1.8M614.9 202.9v1.8M614.9 206.9v1.8M614.9 214.7v1.8M614.9 218.7v1.8M614.9 222.6v1.8M614.9 226.6v1.8M620.4 175.3v1.8M620.4 179.3v1.8M620.4 183.2v1.8M620.4 187.2v1.8M620.4 195.0v1.8M620.4 199.0v1.8M620.4 202.9v1.8M620.4 206.9v1.8M620.4 214.7v1.8M620.4 218.7v1.8M620.4 222.6v1.8M620.4 226.6v1.8M626.0 175.3v1.8M626.0 179.3v1.8M626.0 183.2v1.8M626.0 187.2v1.8M626.0 195.0v1.8M626.0 199.0v1.8M626.0 202.9v1.8M626.0 206.9v1.8M626.0 214.7v1.8M626.0 218.7v1.8M626.0 222.6v1.8M626.0 226.6v1.8M631.6 175.3v1.8M631.6 179.3v1.8M631.6 183.2v1.8M631.6 187.2v1.8M631.6 195.0v1.8M631.6 199.0v1.8M631.6 202.9v1.8M631.6 206.9v1.8M631.6 214.7v1.8M631.6 218.7v1.8M631.6 222.6v1.8M631.6 226.6v1.8M637.2 175.3v1.8M637.2 179.3v1.8M637.2 183.2v1.8M637.2 187.2v1.8M637.2 195.0v1.8M637.2 199.0v1.8M637.2 202.9v1.8M637.2 206.9v1.8M637.2 214.7v1.8M637.2 218.7v1.8M637.2 222.6v1.8M637.2 226.6v1.8M642.7 175.3v1.8M642.7 179.3v1.8M642.7 183.2v1.8M642.7 187.2v1.8M642.7 195.0v1.8M642.7 199.0v1.8M642.7 202.9v1.8M642.7 206.9v1.8M642.7 214.7v1.8M642.7 218.7v1.8M642.7 222.6v1.8M642.7 226.6v1.8M648.3 175.3v1.8M648.3 179.3v1.8M648.3 183.2v1.8M648.3 187.2v1.8M648.3 195.0v1.8M648.3 199.0v1.8M648.3 202.9v1.8M648.3 206.9v1.8M648.3 214.7v1.8M648.3 218.7v1.8M648.3 222.6v1.8M648.3 226.6v1.8M653.9 175.3v1.8M653.9 179.3v1.8M653.9 183.2v1.8M653.9 187.2v1.8M653.9 195.0v1.8M653.9 199.0v1.8M653.9 202.9v1.8M653.9 206.9v1.8M653.9 214.7v1.8M653.9 218.7v1.8M653.9 222.6v1.8M653.9 226.6v1.8M659.5 175.3v1.8M659.5 179.3v1.8M659.5 183.2v1.8M659.5 187.2v1.8M659.5 195.0v1.8M659.5 199.0v1.8M659.5 202.9v1.8M659.5 206.9v1.8M659.5 214.7v1.8M659.5 218.7v1.8M659.5 222.6v1.8M659.5 226.6v1.8M665.0 175.3v1.8M665.0 179.3v1.8M665.0 183.2v1.8M665.0 187.2v1.8M665.0 195.0v1.8M665.0 199.0v1.8M665.0 202.9v1.8M665.0 206.9v1.8M665.0 214.7v1.8M665.0 218.7v1.8M665.0 222.6v1.8M665.0 226.6v1.8M670.6 175.3v1.8M670.6 179.3v1.8M670.6 183.2v1.8M670.6 187.2v1.8M670.6 195.0v1.8M670.6 199.0v1.8M670.6 202.9v1.8M670.6 206.9v1.8M670.6 214.7v1.8M670.6 218.7v1.8M670.6 222.6v1.8M670.6 226.6v1.8M676.2 175.3v1.8M676.2 179.3v1.8M676.2 183.2v1.8M676.2 187.2v1.8M676.2 195.0v1.8M676.2 199.0v1.8M676.2 202.9v1.8M676.2 206.9v1.8M676.2 214.7v1.8M676.2 218.7v1.8M676.2 222.6v1.8M676.2 226.6v1.8M681.8 175.3v1.8M681.8 179.3v1.8M681.8 183.2v1.8M681.8 187.2v1.8M681.8 195.0v1.8M681.8 199.0v1.8M681.8 202.9v1.8M681.8 206.9v1.8M681.8 214.7v1.8M681.8 218.7v1.8M681.8 222.6v1.8M681.8 226.6v1.8M687.3 175.3v1.8M687.3 179.3v1.8M687.3 183.2v1.8M687.3 187.2v1.8M687.3 195.0v1.8M687.3 199.0v1.8M687.3 202.9v1.8M687.3 206.9v1.8M687.3 214.7v1.8M687.3 218.7v1.8M687.3 222.6v1.8M687.3 226.6v1.8M692.9 175.3v1.8M692.9 179.3v1.8M692.9 183.2v1.8M692.9 187.2v1.8M692.9 195.0v1.8M692.9 199.0v1.8M692.9 202.9v1.8M692.9 206.9v1.8M692.9 214.7v1.8M692.9 218.7v1.8M692.9 222.6v1.8M692.9 226.6v1.8" stroke="#bdbdbd" stroke-width="1.1" fill="none"/>
<path d="M532.2 172.3V231.2M573.8 172.3V231.2M615.5 172.3V231.2M657.1 172.3V231.2M490.6 192.0H698.7M490.6 211.6H698.7" stroke="#dcdcdc" stroke-width="1.7" fill="none"/>
<path d="M490.6 231.2v-3.6M490.6 172.3v3.6M532.2 231.2v-3.6M532.2 172.3v3.6M573.8 231.2v-3.6M573.8 172.3v3.6M615.5 231.2v-3.6M615.5 172.3v3.6M657.1 231.2v-3.6M657.1 172.3v3.6M698.7 231.2v-3.6M698.7 172.3v3.6M490.6 172.3h3.6M698.7 172.3h-3.6M490.6 192.0h3.6M698.7 192.0h-3.6M490.6 211.6h3.6M698.7 211.6h-3.6M490.6 231.2h3.6M698.7 231.2h-3.6" stroke="#262626" stroke-width="1.9" fill="none"/>
<rect x="490.6" y="172.3" width="208.1" height="58.9" fill="none" stroke="#262626" stroke-width="2.1"/>
<g fill="none" stroke="#0072BD" stroke-width="2.1">
<circle cx="495.6" cy="231.5" r="4"/><circle cx="497.3" cy="231.5" r="4"/><circle cx="499.0" cy="231.5" r="4"/><circle cx="500.8" cy="231.5" r="4"/><circle cx="502.5" cy="231.5" r="4"/><circle cx="504.2" cy="231.5" r="4"/><circle cx="506.0" cy="231.5" r="4"/><circle cx="507.7" cy="231.5" r="4"/><circle cx="509.4" cy="231.5" r="4"/><circle cx="511.2" cy="231.5" r="4"/><circle cx="512.9" cy="231.5" r="4"/><circle cx="514.6" cy="231.5" r="4"/><circle cx="516.4" cy="231.5" r="4"/><circle cx="518.1" cy="231.5" r="4"/><circle cx="519.8" cy="231.5" r="4"/><circle cx="521.6" cy="231.5" r="4"/><circle cx="523.3" cy="231.5" r="4"/><circle cx="525.0" cy="231.5" r="4"/><circle cx="526.8" cy="231.5" r="4"/><circle cx="528.5" cy="231.5" r="4"/><circle cx="530.2" cy="231.5" r="4"/><circle cx="532.0" cy="231.5" r="4"/><circle cx="533.7" cy="231.5" r="4"/><circle cx="535.4" cy="231.5" r="4"/><circle cx="537.2" cy="231.5" r="4"/><circle cx="538.9" cy="231.5" r="4"/><circle cx="540.6" cy="231.5" r="4"/><circle cx="542.4" cy="231.5" r="4"/><circle cx="544.1" cy="231.5" r="4"/><circle cx="545.8" cy="231.5" r="4"/><circle cx="547.6" cy="231.5" r="4"/><circle cx="549.3" cy="231.5" r="4"/><circle cx="551.0" cy="231.5" r="4"/><circle cx="552.8" cy="231.5" r="4"/><circle cx="554.5" cy="231.5" r="4"/><circle cx="556.2" cy="231.5" r="4"/><circle cx="558.0" cy="231.5" r="4"/><circle cx="559.7" cy="231.5" r="4"/><circle cx="561.5" cy="231.5" r="4"/><circle cx="563.2" cy="231.5" r="4"/><circle cx="564.9" cy="231.5" r="4"/><circle cx="566.7" cy="231.5" r="4"/><circle cx="568.4" cy="231.5" r="4"/><circle cx="570.1" cy="231.5" r="4"/><circle cx="571.9" cy="231.5" r="4"/><circle cx="573.6" cy="231.5" r="4"/><circle cx="575.3" cy="231.5" r="4"/><circle cx="577.1" cy="231.5" r="4"/><circle cx="578.8" cy="231.5" r="4"/><circle cx="580.5" cy="231.5" r="4"/><circle cx="582.3" cy="231.5" r="4"/><circle cx="584.0" cy="231.5" r="4"/><circle cx="585.7" cy="231.5" r="4"/><circle cx="587.5" cy="231.5" r="4"/><circle cx="589.2" cy="231.5" r="4"/><circle cx="590.9" cy="231.5" r="4"/><circle cx="592.7" cy="231.5" r="4"/><circle cx="594.4" cy="231.5" r="4"/><circle cx="596.1" cy="231.5" r="4"/><circle cx="597.9" cy="231.5" r="4"/><circle cx="599.6" cy="231.5" r="4"/><circle cx="601.3" cy="231.5" r="4"/><circle cx="603.1" cy="231.5" r="4"/><circle cx="604.8" cy="219.6" r="4"/><circle cx="606.5" cy="199.9" r="4"/><circle cx="608.3" cy="172.2" r="4"/><circle cx="610.0" cy="223.6" r="4"/><circle cx="611.7" cy="231.7" r="4"/><circle cx="613.5" cy="225.8" r="4"/><circle cx="615.2" cy="224.4" r="4"/><circle cx="616.9" cy="215.6" r="4"/><circle cx="618.7" cy="223.6" r="4"/><circle cx="620.4" cy="231.5" r="4"/><circle cx="622.1" cy="231.5" r="4"/><circle cx="623.9" cy="231.5" r="4"/><circle cx="625.6" cy="231.5" r="4"/><circle cx="627.3" cy="231.5" r="4"/><circle cx="629.1" cy="231.5" r="4"/><circle cx="630.8" cy="231.5" r="4"/><circle cx="632.6" cy="231.5" r="4"/><circle cx="634.3" cy="231.5" r="4"/><circle cx="636.0" cy="231.5" r="4"/><circle cx="637.8" cy="231.5" r="4"/><circle cx="639.5" cy="231.5" r="4"/><circle cx="641.2" cy="231.5" r="4"/><circle cx="643.0" cy="231.5" r="4"/><circle cx="644.7" cy="231.5" r="4"/><circle cx="646.4" cy="231.5" r="4"/><circle cx="648.2" cy="231.5" r="4"/><circle cx="649.9" cy="231.5" r="4"/><circle cx="651.6" cy="231.5" r="4"/><circle cx="653.4" cy="231.5" r="4"/><circle cx="655.1" cy="231.5" r="4"/><circle cx="656.8" cy="231.5" r="4"/><circle cx="658.6" cy="231.5" r="4"/><circle cx="660.3" cy="231.5" r="4"/><circle cx="662.0" cy="231.5" r="4"/>
</g>
<g font-size="18.6" text-anchor="end">
<text transform="translate(482.0,178.9) scale(0.965,1)">1.5</text>
<text transform="translate(482.0,198.6) scale(1.03,1)">1</text>
<text transform="translate(482.0,218.2) scale(0.965,1)">0.5</text>
<text transform="translate(482.0,237.8) scale(1.03,1)">0</text>
</g>
<text transform="translate(444.9,250.4) rotate(-90) scale(0.979,1)" font-size="20.6">RAINFALL</text>
</g>
<g id="ax20">
<path d="M154.1 306.1v1.8M154.1 313.6v1.8M154.1 328.6v1.8M154.1 336.1v1.8M154.1 343.7v1.8M154.1 351.2v1.8M159.6 306.1v1.8M159.6 313.6v1.8M159.6 328.6v1.8M159.6 336.1v1.8M159.6 343.7v1.8M159.6 351.2v1.8M165.2 306.1v1.8M165.2 313.6v1.8M165.2 328.6v1.8M165.2 336.1v1.8M165.2 343.7v1.8M165.2 351.2v1.8M170.8 306.1v1.8M170.8 313.6v1.8M170.8 328.6v1.8M170.8 336.1v1.8M170.8 343.7v1.8M170.8 351.2v1.8M176.4 306.1v1.8M176.4 313.6v1.8M176.4 328.6v1.8M176.4 336.1v1.8M176.4 343.7v1.8M176.4 351.2v1.8M181.9 306.1v1.8M181.9 313.6v1.8M181.9 328.6v1.8M181.9 336.1v1.8M181.9 343.7v1.8M181.9 351.2v1.8M187.5 306.1v1.8M187.5 313.6v1.8M187.5 328.6v1.8M187.5 336.1v1.8M187.5 343.7v1.8M187.5 351.2v1.8M193.1 306.1v1.8M193.1 313.6v1.8M193.1 328.6v1.8M193.1 336.1v1.8M193.1 343.7v1.8M193.1 351.2v1.8M198.7 306.1v1.8M198.7 313.6v1.8M198.7 328.6v1.8M198.7 336.1v1.8M198.7 343.7v1.8M198.7 351.2v1.8M204.2 306.1v1.8M204.2 313.6v1.8M204.2 328.6v1.8M204.2 336.1v1.8M204.2 343.7v1.8M204.2 351.2v1.8M209.8 306.1v1.8M209.8 313.6v1.8M209.8 328.6v1.8M209.8 336.1v1.8M209.8 343.7v1.8M209.8 351.2v1.8M215.4 306.1v1.8M215.4 313.6v1.8M215.4 328.6v1.8M215.4 336.1v1.8M215.4 343.7v1.8M215.4 351.2v1.8M221.0 306.1v1.8M221.0 313.6v1.8M221.0 328.6v1.8M221.0 336.1v1.8M221.0 343.7v1.8M221.0 351.2v1.8M226.5 306.1v1.8M226.5 313.6v1.8M226.5 328.6v1.8M226.5 336.1v1.8M226.5 343.7v1.8M226.5 351.2v1.8M232.1 306.1v1.8M232.1 313.6v1.8M232.1 328.6v1.8M232.1 336.1v1.8M232.1 343.7v1.8M232.1 351.2v1.8M237.7 306.1v1.8M237.7 313.6v1.8M237.7 328.6v1.8M237.7 336.1v1.8M237.7 343.7v1.8M237.7 351.2v1.8M243.3 306.1v1.8M243.3 313.6v1.8M243.3 328.6v1.8M243.3 336.1v1.8M243.3 343.7v1.8M243.3 351.2v1.8M248.8 306.1v1.8M248.8 313.6v1.8M248.8 328.6v1.8M248.8 336.1v1.8M248.8 343.7v1.8M248.8 351.2v1.8M254.4 306.1v1.8M254.4 313.6v1.8M254.4 328.6v1.8M254.4 336.1v1.8M254.4 343.7v1.8M254.4 351.2v1.8M260.0 306.1v1.8M260.0 313.6v1.8M260.0 328.6v1.8M260.0 336.1v1.8M260.0 343.7v1.8M260.0 351.2v1.8M265.6 306.1v1.8M265.6 313.6v1.8M265.6 328.6v1.8M265.6 336.1v1.8M265.6 343.7v1.8M265.6 351.2v1.8M271.1 306.1v1.8M271.1 313.6v1.8M271.1 328.6v1.8M271.1 336.1v1.8M271.1 343.7v1.8M271.1 351.2v1.8M276.7 306.1v1.8M276.7 313.6v1.8M276.7 328.6v1.8M276.7 336.1v1.8M276.7 343.7v1.8M276.7 351.2v1.8M282.3 306.1v1.8M282.3 313.6v1.8M282.3 328.6v1.8M282.3 336.1v1.8M282.3 343.7v1.8M282.3 351.2v1.8M287.9 306.1v1.8M287.9 313.6v1.8M287.9 328.6v1.8M287.9 336.1v1.8M287.9 343.7v1.8M287.9 351.2v1.8M293.4 306.1v1.8M293.4 313.6v1.8M293.4 328.6v1.8M293.4 336.1v1.8M293.4 343.7v1.8M293.4 351.2v1.8M299.0 306.1v1.8M299.0 313.6v1.8M299.0 328.6v1.8M299.0 336.1v1.8M299.0 343.7v1.8M299.0 351.2v1.8M304.6 306.1v1.8M304.6 313.6v1.8M304.6 328.6v1.8M304.6 336.1v1.8M304.6 343.7v1.8M304.6 351.2v1.8M310.2 306.1v1.8M310.2 313.6v1.8M310.2 328.6v1.8M310.2 336.1v1.8M310.2 343.7v1.8M310.2 351.2v1.8M315.7 306.1v1.8M315.7 313.6v1.8M315.7 328.6v1.8M315.7 336.1v1.8M315.7 343.7v1.8M315.7 351.2v1.8M321.3 306.1v1.8M321.3 313.6v1.8M321.3 328.6v1.8M321.3 336.1v1.8M321.3 343.7v1.8M321.3 351.2v1.8M326.9 306.1v1.8M326.9 313.6v1.8M326.9 328.6v1.8M326.9 336.1v1.8M326.9 343.7v1.8M326.9 351.2v1.8M332.5 306.1v1.8M332.5 313.6v1.8M332.5 328.6v1.8M332.5 336.1v1.8M332.5 343.7v1.8M332.5 351.2v1.8M338.0 306.1v1.8M338.0 313.6v1.8M338.0 328.6v1.8M338.0 336.1v1.8M338.0 343.7v1.8M338.0 351.2v1.8M343.6 306.1v1.8M343.6 313.6v1.8M343.6 328.6v1.8M343.6 336.1v1.8M343.6 343.7v1.8M343.6 351.2v1.8M349.2 306.1v1.8M349.2 313.6v1.8M349.2 328.6v1.8M349.2 336.1v1.8M349.2 343.7v1.8M349.2 351.2v1.8" stroke="#bdbdbd" stroke-width="1.1" fill="none"/>
<path d="M188.6 299.4V359.6M230.4 299.4V359.6M272.1 299.4V359.6M313.9 299.4V359.6M146.9 322.0H355.6" stroke="#dcdcdc" stroke-width="1.7" fill="none"/>
<path d="M146.9 359.6v-3.6M146.9 299.4v3.6M188.6 359.6v-3.6M188.6 299.4v3.6M230.4 359.6v-3.6M230.4 299.4v3.6M272.1 359.6v-3.6M272.1 299.4v3.6M313.9 359.6v-3.6M313.9 299.4v3.6M355.6 359.6v-3.6M355.6 299.4v3.6M146.9 322.0h3.6M355.6 322.0h-3.6M146.9 359.6h3.6M355.6 359.6h-3.6" stroke="#262626" stroke-width="1.9" fill="none"/>
<rect x="146.9" y="299.4" width="208.7" height="60.2" fill="none" stroke="#262626" stroke-width="2.1"/>
<g fill="none" stroke="#0072BD" stroke-width="2.1">
<circle cx="151.7" cy="359.4" r="4"/><circle cx="153.4" cy="356.5" r="4"/><circle cx="155.2" cy="353.6" r="4"/><circle cx="156.9" cy="350.6" r="4"/><circle cx="159.3" cy="338.7" r="4"/><circle cx="161.2" cy="327.0" r="4"/><circle cx="162.3" cy="312.7" r="4"/><circle cx="163.9" cy="309.1" r="4"/><circle cx="165.7" cy="305.4" r="4"/><circle cx="167.7" cy="299.6" r="4"/><circle cx="169.9" cy="317.4" r="4"/><circle cx="171.4" cy="337.8" r="4"/><circle cx="172.7" cy="358.8" r="4"/><circle cx="174.5" cy="358.8" r="4"/><circle cx="176.2" cy="358.8" r="4"/><circle cx="178.0" cy="358.8" r="4"/><circle cx="179.7" cy="358.8" r="4"/><circle cx="181.4" cy="358.8" r="4"/><circle cx="183.2" cy="358.8" r="4"/><circle cx="184.9" cy="358.6" r="4"/><circle cx="186.7" cy="358.3" r="4"/><circle cx="188.4" cy="358.0" r="4"/><circle cx="190.1" cy="357.2" r="4"/><circle cx="191.9" cy="356.2" r="4"/><circle cx="193.6" cy="354.6" r="4"/><circle cx="195.3" cy="352.6" r="4"/><circle cx="197.1" cy="350.3" r="4"/><circle cx="198.8" cy="346.4" r="4"/><circle cx="200.6" cy="341.3" r="4"/><circle cx="202.3" cy="335.1" r="4"/><circle cx="204.0" cy="329.2" r="4"/><circle cx="205.8" cy="324.5" r="4"/><circle cx="207.5" cy="326.3" r="4"/><circle cx="209.3" cy="333.0" r="4"/><circle cx="211.0" cy="340.5" r="4"/><circle cx="212.7" cy="344.5" r="4"/><circle cx="214.5" cy="355.0" r="4"/><circle cx="216.2" cy="354.4" r="4"/><circle cx="218.0" cy="353.8" r="4"/><circle cx="219.7" cy="353.1" r="4"/><circle cx="221.4" cy="352.2" r="4"/><circle cx="223.2" cy="351.4" r="4"/><circle cx="224.9" cy="351.8" r="4"/><circle cx="226.7" cy="351.3" r="4"/><circle cx="228.4" cy="350.4" r="4"/><circle cx="230.1" cy="349.5" r="4"/><circle cx="231.9" cy="348.4" r="4"/><circle cx="233.6" cy="347.1" r="4"/><circle cx="235.3" cy="345.8" r="4"/><circle cx="237.1" cy="344.3" r="4"/><circle cx="238.8" cy="342.1" r="4"/><circle cx="240.6" cy="339.9" r="4"/><circle cx="242.3" cy="337.8" r="4"/><circle cx="244.0" cy="335.5" r="4"/><circle cx="245.8" cy="333.1" r="4"/><circle cx="247.5" cy="331.5" r="4"/><circle cx="249.3" cy="330.9" r="4"/><circle cx="251.0" cy="330.3" r="4"/><circle cx="252.7" cy="332.4" r="4"/><circle cx="254.5" cy="335.0" r="4"/><circle cx="256.2" cy="337.5" r="4"/><circle cx="258.0" cy="339.7" r="4"/><circle cx="259.7" cy="339.1" r="4"/><circle cx="261.4" cy="338.5" r="4"/><circle cx="263.2" cy="339.7" r="4"/><circle cx="264.9" cy="342.3" r="4"/><circle cx="266.7" cy="344.9" r="4"/><circle cx="268.4" cy="346.4" r="4"/><circle cx="270.1" cy="347.9" r="4"/><circle cx="271.9" cy="349.2" r="4"/><circle cx="273.6" cy="349.7" r="4"/><circle cx="275.3" cy="350.1" r="4"/><circle cx="277.1" cy="350.5" r="4"/><circle cx="278.8" cy="350.5" r="4"/><circle cx="280.6" cy="350.3" r="4"/><circle cx="282.3" cy="350.0" r="4"/><circle cx="284.0" cy="350.3" r="4"/><circle cx="285.8" cy="351.1" r="4"/><circle cx="287.5" cy="352.0" r="4"/><circle cx="289.3" cy="353.6" r="4"/><circle cx="291.0" cy="352.8" r="4"/><circle cx="292.7" cy="350.3" r="4"/><circle cx="294.5" cy="348.0" r="4"/><circle cx="296.2" cy="345.6" r="4"/><circle cx="298.0" cy="343.3" r="4"/><circle cx="299.7" cy="341.8" r="4"/><circle cx="301.4" cy="340.3" r="4"/><circle cx="303.2" cy="338.8" r="4"/><circle cx="304.9" cy="337.4" r="4"/><circle cx="306.7" cy="336.1" r="4"/><circle cx="308.4" cy="334.8" r="4"/><circle cx="310.1" cy="333.8" r="4"/><circle cx="311.9" cy="333.5" r="4"/><circle cx="313.6" cy="333.2" r="4"/><circle cx="315.3" cy="334.2" r="4"/><circle cx="317.1" cy="335.0" r="4"/><circle cx="318.8" cy="332.1" r="4"/>
</g>
<g font-size="18.6" text-anchor="end">
<text transform="translate(138.3,328.6) scale(1.03,1)">1000</text>
<text transform="translate(138.3,366.2) scale(1.03,1)">0</text>
</g>
<text transform="translate(83.5,383.6) rotate(-90) scale(1.003,1)" font-size="20.6">MIXDEPTH</text>
</g>
<g id="ax21">
<path d="M497.8 302.0v1.8M497.8 305.3v1.8M497.8 308.6v1.8M497.8 311.9v1.8M497.8 318.5v1.8M497.8 321.8v1.8M497.8 325.1v1.8M497.8 328.4v1.8M497.8 335.0v1.8M497.8 338.3v1.8M497.8 341.6v1.8M497.8 344.9v1.8M497.8 351.5v1.8M497.8 354.8v1.8M503.4 302.0v1.8M503.4 305.3v1.8M503.4 308.6v1.8M503.4 311.9v1.8M503.4 318.5v1.8M503.4 321.8v1.8M503.4 325.1v1.8M503.4 328.4v1.8M503.4 335.0v1.8M503.4 338.3v1.8M503.4 341.6v1.8M503.4 344.9v1.8M503.4 351.5v1.8M503.4 354.8v1.8M508.9 302.0v1.8M508.9 305.3v1.8M508.9 308.6v1.8M508.9 311.9v1.8M508.9 318.5v1.8M508.9 321.8v1.8M508.9 325.1v1.8M508.9 328.4v1.8M508.9 335.0v1.8M508.9 338.3v1.8M508.9 341.6v1.8M508.9 344.9v1.8M508.9 351.5v1.8M508.9 354.8v1.8M514.5 302.0v1.8M514.5 305.3v1.8M514.5 308.6v1.8M514.5 311.9v1.8M514.5 318.5v1.8M514.5 321.8v1.8M514.5 325.1v1.8M514.5 328.4v1.8M514.5 335.0v1.8M514.5 338.3v1.8M514.5 341.6v1.8M514.5 344.9v1.8M514.5 351.5v1.8M514.5 354.8v1.8M520.1 302.0v1.8M520.1 305.3v1.8M520.1 308.6v1.8M520.1 311.9v1.8M520.1 318.5v1.8M520.1 321.8v1.8M520.1 325.1v1.8M520.1 328.4v1.8M520.1 335.0v1.8M520.1 338.3v1.8M520.1 341.6v1.8M520.1 344.9v1.8M520.1 351.5v1.8M520.1 354.8v1.8M525.7 302.0v1.8M525.7 305.3v1.8M525.7 308.6v1.8M525.7 311.9v1.8M525.7 318.5v1.8M525.7 321.8v1.8M525.7 325.1v1.8M525.7 328.4v1.8M525.7 335.0v1.8M525.7 338.3v1.8M525.7 341.6v1.8M525.7 344.9v1.8M525.7 351.5v1.8M525.7 354.8v1.8M531.2 302.0v1.8M531.2 305.3v1.8M531.2 308.6v1.8M531.2 311.9v1.8M531.2 318.5v1.8M531.2 321.8v1.8M531.2 325.1v1.8M531.2 328.4v1.8M531.2 335.0v1.8M531.2 338.3v1.8M531.2 341.6v1.8M531.2 344.9v1.8M531.2 351.5v1.8M531.2 354.8v1.8M536.8 302.0v1.8M536.8 305.3v1.8M536.8 308.6v1.8M536.8 311.9v1.8M536.8 318.5v1.8M536.8 321.8v1.8M536.8 325.1v1.8M536.8 328.4v1.8M536.8 335.0v1.8M536.8 338.3v1.8M536.8 341.6v1.8M536.8 344.9v1.8M536.8 351.5v1.8M536.8 354.8v1.8M542.4 302.0v1.8M542.4 305.3v1.8M542.4 308.6v1.8M542.4 311.9v1.8M542.4 318.5v1.8M542.4 321.8v1.8M542.4 325.1v1.8M542.4 328.4v1.8M542.4 335.0v1.8M542.4 338.3v1.8M542.4 341.6v1.8M542.4 344.9v1.8M542.4 351.5v1.8M542.4 354.8v1.8M548.0 302.0v1.8M548.0 305.3v1.8M548.0 308.6v1.8M548.0 311.9v1.8M548.0 318.5v1.8M548.0 321.8v1.8M548.0 325.1v1.8M548.0 328.4v1.8M548.0 335.0v1.8M548.0 338.3v1.8M548.0 341.6v1.8M548.0 344.9v1.8M548.0 351.5v1.8M548.0 354.8v1.8M553.5 302.0v1.8M553.5 305.3v1.8M553.5 308.6v1.8M553.5 311.9v1.8M553.5 318.5v1.8M553.5 321.8v1.8M553.5 325.1v1.8M553.5 328.4v1.8M553.5 335.0v1.8M553.5 338.3v1.8M553.5 341.6v1.8M553.5 344.9v1.8M553.5 351.5v1.8M553.5 354.8v1.8M559.1 302.0v1.8M559.1 305.3v1.8M559.1 308.6v1.8M559.1 311.9v1.8M559.1 318.5v1.8M559.1 321.8v1.8M559.1 325.1v1.8M559.1 328.4v1.8M559.1 335.0v1.8M559.1 338.3v1.8M559.1 341.6v1.8M559.1 344.9v1.8M559.1 351.5v1.8M559.1 354.8v1.8M564.7 302.0v1.8M564.7 305.3v1.8M564.7 308.6v1.8M564.7 311.9v1.8M564.7 318.5v1.8M564.7 321.8v1.8M564.7 325.1v1.8M564.7 328.4v1.8M564.7 335.0v1.8M564.7 338.3v1.8M564.7 341.6v1.8M564.7 344.9v1.8M564.7 351.5v1.8M564.7 354.8v1.8M570.3 302.0v1.8M570.3 305.3v1.8M570.3 308.6v1.8M570.3 311.9v1.8M570.3 318.5v1.8M570.3 321.8v1.8M570.3 325.1v1.8M570.3 328.4v1.8M570.3 335.0v1.8M570.3 338.3v1.8M570.3 341.6v1.8M570.3 344.9v1.8M570.3 351.5v1.8M570.3 354.8v1.8M575.8 302.0v1.8M575.8 305.3v1.8M575.8 308.6v1.8M575.8 311.9v1.8M575.8 318.5v1.8M575.8 321.8v1.8M575.8 325.1v1.8M575.8 328.4v1.8M575.8 335.0v1.8M575.8 338.3v1.8M575.8 341.6v1.8M575.8 344.9v1.8M575.8 351.5v1.8M575.8 354.8v1.8M581.4 302.0v1.8M581.4 305.3v1.8M581.4 308.6v1.8M581.4 311.9v1.8M581.4 318.5v1.8M581.4 321.8v1.8M581.4 325.1v1.8M581.4 328.4v1.8M581.4 335.0v1.8M581.4 338.3v1.8M581.4 341.6v1.8M581.4 344.9v1.8M581.4 351.5v1.8M581.4 354.8v1.8M587.0 302.0v1.8M587.0 305.3v1.8M587.0 308.6v1.8M587.0 311.9v1.8M587.0 318.5v1.8M587.0 321.8v1.8M587.0 325.1v1.8M587.0 328.4v1.8M587.0 335.0v1.8M587.0 338.3v1.8M587.0 341.6v1.8M587.0 344.9v1.8M587.0 351.5v1.8M587.0 354.8v1.8M592.6 302.0v1.8M592.6 305.3v1.8M592.6 308.6v1.8M592.6 311.9v1.8M592.6 318.5v1.8M592.6 321.8v1.8M592.6 325.1v1.8M592.6 328.4v1.8M592.6 335.0v1.8M592.6 338.3v1.8M592.6 341.6v1.8M592.6 344.9v1.8M592.6 351.5v1.8M592.6 354.8v1.8M598.1 302.0v1.8M598.1 305.3v1.8M598.1 308.6v1.8M598.1 311.9v1.8M598.1 318.5v1.8M598.1 321.8v1.8M598.1 325.1v1.8M598.1 328.4v1.8M598.1 335.0v1.8M598.1 338.3v1.8M598.1 341.6v1.8M598.1 344.9v1.8M598.1 351.5v1.8M598.1 354.8v1.8M603.7 302.0v1.8M603.7 305.3v1.8M603.7 308.6v1.8M603.7 311.9v1.8M603.7 318.5v1.8M603.7 321.8v1.8M603.7 325.1v1.8M603.7 328.4v1.8M603.7 335.0v1.8M603.7 338.3v1.8M603.7 341.6v1.8M603.7 344.9v1.8M603.7 351.5v1.8M603.7 354.8v1.8M609.3 302.0v1.8M609.3 305.3v1.8M609.3 308.6v1.8M609.3 311.9v1.8M609.3 318.5v1.8M609.3 321.8v1.8M609.3 325.1v1.8M609.3 328.4v1.8M609.3 335.0v1.8M609.3 338.3v1.8M609.3 341.6v1.8M609.3 344.9v1.8M609.3 351.5v1.8M609.3 354.8v1.8M614.9 302.0v1.8M614.9 305.3v1.8M614.9 308.6v1.8M614.9 311.9v1.8M614.9 318.5v1.8M614.9 321.8v1.8M614.9 325.1v1.8M614.9 328.4v1.8M614.9 335.0v1.8M614.9 338.3v1.8M614.9 341.6v1.8M614.9 344.9v1.8M614.9 351.5v1.8M614.9 354.8v1.8M620.4 302.0v1.8M620.4 305.3v1.8M620.4 308.6v1.8M620.4 311.9v1.8M620.4 318.5v1.8M620.4 321.8v1.8M620.4 325.1v1.8M620.4 328.4v1.8M620.4 335.0v1.8M620.4 338.3v1.8M620.4 341.6v1.8M620.4 344.9v1.8M620.4 351.5v1.8M620.4 354.8v1.8M626.0 302.0v1.8M626.0 305.3v1.8M626.0 308.6v1.8M626.0 311.9v1.8M626.0 318.5v1.8M626.0 321.8v1.8M626.0 325.1v1.8M626.0 328.4v1.8M626.0 335.0v1.8M626.0 338.3v1.8M626.0 341.6v1.8M626.0 344.9v1.8M626.0 351.5v1.8M626.0 354.8v1.8M631.6 302.0v1.8M631.6 305.3v1.8M631.6 308.6v1.8M631.6 311.9v1.8M631.6 318.5v1.8M631.6 321.8v1.8M631.6 325.1v1.8M631.6 328.4v1.8M631.6 335.0v1.8M631.6 338.3v1.8M631.6 341.6v1.8M631.6 344.9v1.8M631.6 351.5v1.8M631.6 354.8v1.8M637.2 302.0v1.8M637.2 305.3v1.8M637.2 308.6v1.8M637.2 311.9v1.8M637.2 318.5v1.8M637.2 321.8v1.8M637.2 325.1v1.8M637.2 328.4v1.8M637.2 335.0v1.8M637.2 338.3v1.8M637.2 341.6v1.8M637.2 344.9v1.8M637.2 351.5v1.8M637.2 354.8v1.8M642.7 302.0v1.8M642.7 305.3v1.8M642.7 308.6v1.8M642.7 311.9v1.8M642.7 318.5v1.8M642.7 321.8v1.8M642.7 325.1v1.8M642.7 328.4v1.8M642.7 335.0v1.8M642.7 338.3v1.8M642.7 341.6v1.8M642.7 344.9v1.8M642.7 351.5v1.8M642.7 354.8v1.8M648.3 302.0v1.8M648.3 305.3v1.8M648.3 308.6v1.8M648.3 311.9v1.8M648.3 318.5v1.8M648.3 321.8v1.8M648.3 325.1v1.8M648.3 328.4v1.8M648.3 335.0v1.8M648.3 338.3v1.8M648.3 341.6v1.8M648.3 344.9v1.8M648.3 351.5v1.8M648.3 354.8v1.8M653.9 302.0v1.8M653.9 305.3v1.8M653.9 308.6v1.8M653.9 311.9v1.8M653.9 318.5v1.8M653.9 321.8v1.8M653.9 325.1v1.8M653.9 328.4v1.8M653.9 335.0v1.8M653.9 338.3v1.8M653.9 341.6v1.8M653.9 344.9v1.8M653.9 351.5v1.8M653.9 354.8v1.8M659.5 302.0v1.8M659.5 305.3v1.8M659.5 308.6v1.8M659.5 311.9v1.8M659.5 318.5v1.8M659.5 321.8v1.8M659.5 325.1v1.8M659.5 328.4v1.8M659.5 335.0v1.8M659.5 338.3v1.8M659.5 341.6v1.8M659.5 344.9v1.8M659.5 351.5v1.8M659.5 354.8v1.8M665.0 302.0v1.8M665.0 305.3v1.8M665.0 308.6v1.8M665.0 311.9v1.8M665.0 318.5v1.8M665.0 321.8v1.8M665.0 325.1v1.8M665.0 328.4v1.8M665.0 335.0v1.8M665.0 338.3v1.8M665.0 341.6v1.8M665.0 344.9v1.8M665.0 351.5v1.8M665.0 354.8v1.8M670.6 302.0v1.8M670.6 305.3v1.8M670.6 308.6v1.8M670.6 311.9v1.8M670.6 318.5v1.8M670.6 321.8v1.8M670.6 325.1v1.8M670.6 328.4v1.8M670.6 335.0v1.8M670.6 338.3v1.8M670.6 341.6v1.8M670.6 344.9v1.8M670.6 351.5v1.8M670.6 354.8v1.8M676.2 302.0v1.8M676.2 305.3v1.8M676.2 308.6v1.8M676.2 311.9v1.8M676.2 318.5v1.8M676.2 321.8v1.8M676.2 325.1v1.8M676.2 328.4v1.8M676.2 335.0v1.8M676.2 338.3v1.8M676.2 341.6v1.8M676.2 344.9v1.8M676.2 351.5v1.8M676.2 354.8v1.8M681.8 302.0v1.8M681.8 305.3v1.8M681.8 308.6v1.8M681.8 311.9v1.8M681.8 318.5v1.8M681.8 321.8v1.8M681.8 325.1v1.8M681.8 328.4v1.8M681.8 335.0v1.8M681.8 338.3v1.8M681.8 341.6v1.8M681.8 344.9v1.8M681.8 351.5v1.8M681.8 354.8v1.8M687.3 302.0v1.8M687.3 305.3v1.8M687.3 308.6v1.8M687.3 311.9v1.8M687.3 318.5v1.8M687.3 321.8v1.8M687.3 325.1v1.8M687.3 328.4v1.8M687.3 335.0v1.8M687.3 338.3v1.8M687.3 341.6v1.8M687.3 344.9v1.8M687.3 351.5v1.8M687.3 354.8v1.8M692.9 302.0v1.8M692.9 305.3v1.8M692.9 308.6v1.8M692.9 311.9v1.8M692.9 318.5v1.8M692.9 321.8v1.8M692.9 325.1v1.8M692.9 328.4v1.8M692.9 335.0v1.8M692.9 338.3v1.8M692.9 341.6v1.8M692.9 344.9v1.8M692.9 351.5v1.8M692.9 354.8v1.8" stroke="#bdbdbd" stroke-width="1.1" fill="none"/>
<path d="M532.2 299.4V359.6M573.8 299.4V359.6M615.5 299.4V359.6M657.1 299.4V359.6M490.6 316.1H698.7M490.6 332.6H698.7M490.6 349.1H698.7" stroke="#dcdcdc" stroke-width="1.7" fill="none"/>
<path d="M490.6 359.6v-3.6M490.6 299.4v3.6M532.2 359.6v-3.6M532.2 299.4v3.6M573.8 359.6v-3.6M573.8 299.4v3.6M615.5 359.6v-3.6M615.5 299.4v3.6M657.1 359.6v-3.6M657.1 299.4v3.6M698.7 359.6v-3.6M698.7 299.4v3.6M490.6 299.6h3.6M698.7 299.6h-3.6M490.6 316.1h3.6M698.7 316.1h-3.6M490.6 332.6h3.6M698.7 332.6h-3.6M490.6 349.1h3.6M698.7 349.1h-3.6" stroke="#262626" stroke-width="1.9" fill="none"/>
<rect x="490.6" y="299.4" width="208.1" height="60.2" fill="none" stroke="#262626" stroke-width="2.1"/>
<g fill="none" stroke="#0072BD" stroke-width="2.1">
<circle cx="495.6" cy="358.7" r="4"/><circle cx="497.3" cy="358.7" r="4"/><circle cx="499.0" cy="358.7" r="4"/><circle cx="500.8" cy="358.5" r="4"/><circle cx="502.5" cy="358.2" r="4"/><circle cx="504.2" cy="357.6" r="4"/><circle cx="506.0" cy="352.0" r="4"/><circle cx="507.7" cy="348.5" r="4"/><circle cx="509.4" cy="348.1" r="4"/><circle cx="511.2" cy="348.6" r="4"/><circle cx="512.9" cy="349.1" r="4"/><circle cx="514.6" cy="349.4" r="4"/><circle cx="516.4" cy="349.6" r="4"/><circle cx="518.1" cy="349.8" r="4"/><circle cx="519.8" cy="349.8" r="4"/><circle cx="521.6" cy="349.6" r="4"/><circle cx="523.3" cy="349.4" r="4"/><circle cx="525.0" cy="349.1" r="4"/><circle cx="526.8" cy="348.5" r="4"/><circle cx="528.5" cy="347.8" r="4"/><circle cx="530.2" cy="347.2" r="4"/><circle cx="532.0" cy="346.7" r="4"/><circle cx="533.7" cy="346.2" r="4"/><circle cx="535.4" cy="345.8" r="4"/><circle cx="537.2" cy="345.5" r="4"/><circle cx="538.9" cy="345.2" r="4"/><circle cx="540.6" cy="345.0" r="4"/><circle cx="542.4" cy="344.8" r="4"/><circle cx="544.1" cy="342.2" r="4"/><circle cx="545.8" cy="339.6" r="4"/><circle cx="547.6" cy="337.0" r="4"/><circle cx="549.3" cy="335.1" r="4"/><circle cx="551.0" cy="333.7" r="4"/><circle cx="552.8" cy="332.5" r="4"/><circle cx="554.5" cy="333.1" r="4"/><circle cx="556.2" cy="333.6" r="4"/><circle cx="558.0" cy="334.1" r="4"/><circle cx="559.7" cy="334.6" r="4"/><circle cx="561.5" cy="333.5" r="4"/><circle cx="563.2" cy="332.4" r="4"/><circle cx="564.9" cy="331.9" r="4"/><circle cx="566.7" cy="332.5" r="4"/><circle cx="568.4" cy="333.1" r="4"/><circle cx="570.1" cy="330.9" r="4"/><circle cx="571.9" cy="325.1" r="4"/><circle cx="573.6" cy="322.5" r="4"/><circle cx="575.3" cy="321.3" r="4"/><circle cx="577.1" cy="320.8" r="4"/><circle cx="578.8" cy="320.7" r="4"/><circle cx="580.5" cy="321.2" r="4"/><circle cx="582.3" cy="321.9" r="4"/><circle cx="584.0" cy="323.0" r="4"/><circle cx="585.7" cy="323.3" r="4"/><circle cx="587.5" cy="323.6" r="4"/><circle cx="589.2" cy="322.7" r="4"/><circle cx="590.9" cy="320.8" r="4"/><circle cx="592.7" cy="318.8" r="4"/><circle cx="594.4" cy="317.2" r="4"/><circle cx="596.1" cy="316.0" r="4"/><circle cx="597.9" cy="315.1" r="4"/><circle cx="599.6" cy="314.2" r="4"/><circle cx="601.3" cy="313.4" r="4"/><circle cx="603.1" cy="313.2" r="4"/><circle cx="604.8" cy="313.0" r="4"/><circle cx="606.5" cy="312.8" r="4"/><circle cx="608.3" cy="312.7" r="4"/><circle cx="610.0" cy="312.7" r="4"/><circle cx="611.7" cy="312.7" r="4"/><circle cx="613.5" cy="312.7" r="4"/><circle cx="615.2" cy="312.7" r="4"/><circle cx="616.9" cy="312.7" r="4"/><circle cx="618.7" cy="312.7" r="4"/><circle cx="620.4" cy="312.5" r="4"/><circle cx="622.1" cy="312.3" r="4"/><circle cx="623.9" cy="312.1" r="4"/><circle cx="625.6" cy="311.4" r="4"/><circle cx="627.3" cy="310.5" r="4"/><circle cx="629.1" cy="309.8" r="4"/><circle cx="630.8" cy="309.5" r="4"/><circle cx="632.6" cy="309.2" r="4"/><circle cx="634.3" cy="308.7" r="4"/><circle cx="636.0" cy="308.1" r="4"/><circle cx="637.8" cy="307.5" r="4"/><circle cx="639.5" cy="306.6" r="4"/><circle cx="641.2" cy="305.8" r="4"/><circle cx="643.0" cy="304.9" r="4"/><circle cx="644.7" cy="304.0" r="4"/><circle cx="646.4" cy="303.2" r="4"/><circle cx="648.2" cy="302.4" r="4"/><circle cx="649.9" cy="301.7" r="4"/><circle cx="651.6" cy="301.0" r="4"/><circle cx="653.4" cy="300.3" r="4"/><circle cx="655.1" cy="299.6" r="4"/><circle cx="656.8" cy="299.4" r="4"/><circle cx="658.6" cy="299.2" r="4"/><circle cx="660.3" cy="299.2" r="4"/><circle cx="662.0" cy="299.2" r="4"/>
</g>
<g font-size="18.6" text-anchor="end">
<text transform="translate(482.0,306.2) scale(1.03,1)">7</text>
<text transform="translate(482.0,322.7) scale(1.03,1)">6</text>
<text transform="translate(482.0,339.2) scale(1.03,1)">5</text>
<text transform="translate(482.0,355.7) scale(1.03,1)">4</text>
</g>
<text transform="translate(459.7,383.9) rotate(-90) scale(1.015,1)" font-size="20.6">H2OMIXRA</text>
</g>
<g id="ax30">
<path d="M154.1 428.2v1.8M154.1 433.0v1.8M154.1 442.6v1.8M154.1 447.4v1.8M154.1 452.3v1.8M154.1 457.1v1.8M154.1 466.7v1.8M154.1 471.5v1.8M154.1 476.4v1.8M154.1 481.2v1.8M159.6 428.2v1.8M159.6 433.0v1.8M159.6 442.6v1.8M159.6 447.4v1.8M159.6 452.3v1.8M159.6 457.1v1.8M159.6 466.7v1.8M159.6 471.5v1.8M159.6 476.4v1.8M159.6 481.2v1.8M165.2 428.2v1.8M165.2 433.0v1.8M165.2 442.6v1.8M165.2 447.4v1.8M165.2 452.3v1.8M165.2 457.1v1.8M165.2 466.7v1.8M165.2 471.5v1.8M165.2 476.4v1.8M165.2 481.2v1.8M170.8 428.2v1.8M170.8 433.0v1.8M170.8 442.6v1.8M170.8 447.4v1.8M170.8 452.3v1.8M170.8 457.1v1.8M170.8 466.7v1.8M170.8 471.5v1.8M170.8 476.4v1.8M170.8 481.2v1.8M176.4 428.2v1.8M176.4 433.0v1.8M176.4 442.6v1.8M176.4 447.4v1.8M176.4 452.3v1.8M176.4 457.1v1.8M176.4 466.7v1.8M176.4 471.5v1.8M176.4 476.4v1.8M176.4 481.2v1.8M181.9 428.2v1.8M181.9 433.0v1.8M181.9 442.6v1.8M181.9 447.4v1.8M181.9 452.3v1.8M181.9 457.1v1.8M181.9 466.7v1.8M181.9 471.5v1.8M181.9 476.4v1.8M181.9 481.2v1.8M187.5 428.2v1.8M187.5 433.0v1.8M187.5 442.6v1.8M187.5 447.4v1.8M187.5 452.3v1.8M187.5 457.1v1.8M187.5 466.7v1.8M187.5 471.5v1.8M187.5 476.4v1.8M187.5 481.2v1.8M193.1 428.2v1.8M193.1 433.0v1.8M193.1 442.6v1.8M193.1 447.4v1.8M193.1 452.3v1.8M193.1 457.1v1.8M193.1 466.7v1.8M193.1 471.5v1.8M193.1 476.4v1.8M193.1 481.2v1.8M198.7 428.2v1.8M198.7 433.0v1.8M198.7 442.6v1.8M198.7 447.4v1.8M198.7 452.3v1.8M198.7 457.1v1.8M198.7 466.7v1.8M198.7 471.5v1.8M198.7 476.4v1.8M198.7 481.2v1.8M204.2 428.2v1.8M204.2 433.0v1.8M204.2 442.6v1.8M204.2 447.4v1.8M204.2 452.3v1.8M204.2 457.1v1.8M204.2 466.7v1.8M204.2 471.5v1.8M204.2 476.4v1.8M204.2 481.2v1.8M209.8 428.2v1.8M209.8 433.0v1.8M209.8 442.6v1.8M209.8 447.4v1.8M209.8 452.3v1.8M209.8 457.1v1.8M209.8 466.7v1.8M209.8 471.5v1.8M209.8 476.4v1.8M209.8 481.2v1.8M215.4 428.2v1.8M215.4 433.0v1.8M215.4 442.6v1.8M215.4 447.4v1.8M215.4 452.3v1.8M215.4 457.1v1.8M215.4 466.7v1.8M215.4 471.5v1.8M215.4 476.4v1.8M215.4 481.2v1.8M221.0 428.2v1.8M221.0 433.0v1.8M221.0 442.6v1.8M221.0 447.4v1.8M221.0 452.3v1.8M221.0 457.1v1.8M221.0 466.7v1.8M221.0 471.5v1.8M221.0 476.4v1.8M221.0 481.2v1.8M226.5 428.2v1.8M226.5 433.0v1.8M226.5 442.6v1.8M226.5 447.4v1.8M226.5 452.3v1.8M226.5 457.1v1.8M226.5 466.7v1.8M226.5 471.5v1.8M226.5 476.4v1.8M226.5 481.2v1.8M232.1 428.2v1.8M232.1 433.0v1.8M232.1 442.6v1.8M232.1 447.4v1.8M232.1 452.3v1.8M232.1 457.1v1.8M232.1 466.7v1.8M232.1 471.5v1.8M232.1 476.4v1.8M232.1 481.2v1.8M237.7 428.2v1.8M237.7 433.0v1.8M237.7 442.6v1.8M237.7 447.4v1.8M237.7 452.3v1.8M237.7 457.1v1.8M237.7 466.7v1.8M237.7 471.5v1.8M237.7 476.4v1.8M237.7 481.2v1.8M243.3 428.2v1.8M243.3 433.0v1.8M243.3 442.6v1.8M243.3 447.4v1.8M243.3 452.3v1.8M243.3 457.1v1.8M243.3 466.7v1.8M243.3 471.5v1.8M243.3 476.4v1.8M243.3 481.2v1.8M248.8 428.2v1.8M248.8 433.0v1.8M248.8 442.6v1.8M248.8 447.4v1.8M248.8 452.3v1.8M248.8 457.1v1.8M248.8 466.7v1.8M248.8 471.5v1.8M248.8 476.4v1.8M248.8 481.2v1.8M254.4 428.2v1.8M254.4 433.0v1.8M254.4 442.6v1.8M254.4 447.4v1.8M254.4 452.3v1.8M254.4 457.1v1.8M254.4 466.7v1.8M254.4 471.5v1.8M254.4 476.4v1.8M254.4 481.2v1.8M260.0 428.2v1.8M260.0 433.0v1.8M260.0 442.6v1.8M260.0 447.4v1.8M260.0 452.3v1.8M260.0 457.1v1.8M260.0 466.7v1.8M260.0 471.5v1.8M260.0 476.4v1.8M260.0 481.2v1.8M265.6 428.2v1.8M265.6 433.0v1.8M265.6 442.6v1.8M265.6 447.4v1.8M265.6 452.3v1.8M265.6 457.1v1.8M265.6 466.7v1.8M265.6 471.5v1.8M265.6 476.4v1.8M265.6 481.2v1.8M271.1 428.2v1.8M271.1 433.0v1.8M271.1 442.6v1.8M271.1 447.4v1.8M271.1 452.3v1.8M271.1 457.1v1.8M271.1 466.7v1.8M271.1 471.5v1.8M271.1 476.4v1.8M271.1 481.2v1.8M276.7 428.2v1.8M276.7 433.0v1.8M276.7 442.6v1.8M276.7 447.4v1.8M276.7 452.3v1.8M276.7 457.1v1.8M276.7 466.7v1.8M276.7 471.5v1.8M276.7 476.4v1.8M276.7 481.2v1.8M282.3 428.2v1.8M282.3 433.0v1.8M282.3 442.6v1.8M282.3 447.4v1.8M282.3 452.3v1.8M282.3 457.1v1.8M282.3 466.7v1.8M282.3 471.5v1.8M282.3 476.4v1.8M282.3 481.2v1.8M287.9 428.2v1.8M287.9 433.0v1.8M287.9 442.6v1.8M287.9 447.4v1.8M287.9 452.3v1.8M287.9 457.1v1.8M287.9 466.7v1.8M287.9 471.5v1.8M287.9 476.4v1.8M287.9 481.2v1.8M293.4 428.2v1.8M293.4 433.0v1.8M293.4 442.6v1.8M293.4 447.4v1.8M293.4 452.3v1.8M293.4 457.1v1.8M293.4 466.7v1.8M293.4 471.5v1.8M293.4 476.4v1.8M293.4 481.2v1.8M299.0 428.2v1.8M299.0 433.0v1.8M299.0 442.6v1.8M299.0 447.4v1.8M299.0 452.3v1.8M299.0 457.1v1.8M299.0 466.7v1.8M299.0 471.5v1.8M299.0 476.4v1.8M299.0 481.2v1.8M304.6 428.2v1.8M304.6 433.0v1.8M304.6 442.6v1.8M304.6 447.4v1.8M304.6 452.3v1.8M304.6 457.1v1.8M304.6 466.7v1.8M304.6 471.5v1.8M304.6 476.4v1.8M304.6 481.2v1.8M310.2 428.2v1.8M310.2 433.0v1.8M310.2 442.6v1.8M310.2 447.4v1.8M310.2 452.3v1.8M310.2 457.1v1.8M310.2 466.7v1.8M310.2 471.5v1.8M310.2 476.4v1.8M310.2 481.2v1.8M315.7 428.2v1.8M315.7 433.0v1.8M315.7 442.6v1.8M315.7 447.4v1.8M315.7 452.3v1.8M315.7 457.1v1.8M315.7 466.7v1.8M315.7 471.5v1.8M315.7 476.4v1.8M315.7 481.2v1.8M321.3 428.2v1.8M321.3 433.0v1.8M321.3 442.6v1.8M321.3 447.4v1.8M321.3 452.3v1.8M321.3 457.1v1.8M321.3 466.7v1.8M321.3 471.5v1.8M321.3 476.4v1.8M321.3 481.2v1.8M326.9 428.2v1.8M326.9 433.0v1.8M326.9 442.6v1.8M326.9 447.4v1.8M326.9 452.3v1.8M326.9 457.1v1.8M326.9 466.7v1.8M326.9 471.5v1.8M326.9 476.4v1.8M326.9 481.2v1.8M332.5 428.2v1.8M332.5 433.0v1.8M332.5 442.6v1.8M332.5 447.4v1.8M332.5 452.3v1.8M332.5 457.1v1.8M332.5 466.7v1.8M332.5 471.5v1.8M332.5 476.4v1.8M332.5 481.2v1.8M338.0 428.2v1.8M338.0 433.0v1.8M338.0 442.6v1.8M338.0 447.4v1.8M338.0 452.3v1.8M338.0 457.1v1.8M338.0 466.7v1.8M338.0 471.5v1.8M338.0 476.4v1.8M338.0 481.2v1.8M343.6 428.2v1.8M343.6 433.0v1.8M343.6 442.6v1.8M343.6 447.4v1.8M343.6 452.3v1.8M343.6 457.1v1.8M343.6 466.7v1.8M343.6 471.5v1.8M343.6 476.4v1.8M343.6 481.2v1.8M349.2 428.2v1.8M349.2 433.0v1.8M349.2 442.6v1.8M349.2 447.4v1.8M349.2 452.3v1.8M349.2 457.1v1.8M349.2 466.7v1.8M349.2 471.5v1.8M349.2 476.4v1.8M349.2 481.2v1.8" stroke="#bdbdbd" stroke-width="1.1" fill="none"/>
<path d="M188.6 427.3V487.5M230.4 427.3V487.5M272.1 427.3V487.5M313.9 427.3V487.5M146.9 438.7H355.6M146.9 462.8H355.6" stroke="#dcdcdc" stroke-width="1.7" fill="none"/>
<path d="M146.9 487.5v-3.6M146.9 427.3v3.6M188.6 487.5v-3.6M188.6 427.3v3.6M230.4 487.5v-3.6M230.4 427.3v3.6M272.1 487.5v-3.6M272.1 427.3v3.6M313.9 487.5v-3.6M313.9 427.3v3.6M355.6 487.5v-3.6M355.6 427.3v3.6M146.9 438.7h3.6M355.6 438.7h-3.6M146.9 462.8h3.6M355.6 462.8h-3.6M146.9 487.0h3.6M355.6 487.0h-3.6" stroke="#262626" stroke-width="1.9" fill="none"/>
<rect x="146.9" y="427.3" width="208.7" height="60.2" fill="none" stroke="#262626" stroke-width="2.1"/>
<g fill="none" stroke="#0072BD" stroke-width="2.1">
<circle cx="151.9" cy="479.8" r="4"/><circle cx="153.6" cy="475.6" r="4"/><circle cx="155.3" cy="471.4" r="4"/><circle cx="157.1" cy="467.8" r="4"/><circle cx="158.8" cy="466.0" r="4"/><circle cx="160.6" cy="466.0" r="4"/><circle cx="162.3" cy="467.2" r="4"/><circle cx="164.0" cy="470.2" r="4"/><circle cx="165.8" cy="473.2" r="4"/><circle cx="167.5" cy="475.6" r="4"/><circle cx="169.3" cy="476.2" r="4"/><circle cx="171.0" cy="475.6" r="4"/><circle cx="172.7" cy="469.0" r="4"/><circle cx="174.5" cy="459.4" r="4"/><circle cx="176.2" cy="459.4" r="4"/><circle cx="178.0" cy="460.0" r="4"/><circle cx="179.7" cy="460.6" r="4"/><circle cx="181.4" cy="461.2" r="4"/><circle cx="183.2" cy="461.5" r="4"/><circle cx="184.9" cy="461.8" r="4"/><circle cx="186.7" cy="461.8" r="4"/><circle cx="188.4" cy="461.5" r="4"/><circle cx="190.1" cy="461.0" r="4"/><circle cx="191.9" cy="461.0" r="4"/><circle cx="193.6" cy="468.4" r="4"/><circle cx="195.3" cy="474.4" r="4"/><circle cx="197.1" cy="476.8" r="4"/><circle cx="198.8" cy="472.0" r="4"/><circle cx="200.6" cy="466.0" r="4"/><circle cx="202.3" cy="465.4" r="4"/><circle cx="204.0" cy="468.4" r="4"/><circle cx="205.8" cy="474.4" r="4"/><circle cx="207.5" cy="479.2" r="4"/><circle cx="209.3" cy="481.6" r="4"/><circle cx="211.0" cy="482.8" r="4"/><circle cx="212.7" cy="477.6" r="4"/><circle cx="214.5" cy="473.7" r="4"/><circle cx="216.2" cy="465.0" r="4"/><circle cx="218.0" cy="445.5" r="4"/><circle cx="219.7" cy="444.4" r="4"/><circle cx="221.4" cy="451.8" r="4"/><circle cx="223.2" cy="456.8" r="4"/><circle cx="224.9" cy="459.7" r="4"/><circle cx="226.7" cy="460.2" r="4"/><circle cx="228.4" cy="459.9" r="4"/><circle cx="230.1" cy="459.4" r="4"/><circle cx="231.9" cy="459.0" r="4"/><circle cx="233.6" cy="458.6" r="4"/><circle cx="235.3" cy="450.7" r="4"/><circle cx="237.1" cy="448.3" r="4"/><circle cx="238.8" cy="446.1" r="4"/><circle cx="240.6" cy="443.5" r="4"/><circle cx="242.3" cy="442.3" r="4"/><circle cx="244.0" cy="441.0" r="4"/><circle cx="245.8" cy="439.5" r="4"/><circle cx="247.5" cy="437.4" r="4"/><circle cx="249.3" cy="435.7" r="4"/><circle cx="251.0" cy="434.9" r="4"/><circle cx="252.7" cy="434.9" r="4"/><circle cx="254.5" cy="434.5" r="4"/><circle cx="256.2" cy="434.0" r="4"/><circle cx="258.0" cy="433.0" r="4"/><circle cx="259.7" cy="428.1" r="4"/><circle cx="261.4" cy="428.4" r="4"/><circle cx="263.2" cy="430.3" r="4"/><circle cx="264.9" cy="433.5" r="4"/><circle cx="266.7" cy="439.0" r="4"/><circle cx="268.4" cy="449.4" r="4"/><circle cx="270.1" cy="452.3" r="4"/><circle cx="271.9" cy="440.0" r="4"/><circle cx="273.6" cy="438.6" r="4"/><circle cx="275.3" cy="443.5" r="4"/><circle cx="277.1" cy="451.0" r="4"/><circle cx="278.8" cy="462.8" r="4"/><circle cx="280.6" cy="470.3" r="4"/><circle cx="282.3" cy="475.5" r="4"/><circle cx="284.0" cy="480.4" r="4"/><circle cx="285.8" cy="483.6" r="4"/><circle cx="287.5" cy="485.6" r="4"/><circle cx="289.3" cy="486.7" r="4"/><circle cx="291.0" cy="487.3" r="4"/><circle cx="292.7" cy="487.4" r="4"/><circle cx="294.5" cy="486.8" r="4"/><circle cx="296.2" cy="485.2" r="4"/><circle cx="298.0" cy="482.3" r="4"/><circle cx="299.7" cy="481.1" r="4"/><circle cx="301.4" cy="477.6" r="4"/><circle cx="303.2" cy="475.1" r="4"/><circle cx="304.9" cy="471.4" r="4"/><circle cx="306.7" cy="468.7" r="4"/><circle cx="308.4" cy="466.1" r="4"/><circle cx="310.1" cy="462.8" r="4"/><circle cx="311.9" cy="458.9" r="4"/><circle cx="313.6" cy="458.4" r="4"/><circle cx="315.3" cy="462.3" r="4"/><circle cx="317.1" cy="463.7" r="4"/><circle cx="318.8" cy="450.6" r="4"/>
</g>
<g font-size="18.6" text-anchor="end">
<text transform="translate(138.3,445.3) scale(1.03,1)">200</text>
<text transform="translate(138.3,469.4) scale(1.03,1)">100</text>
<text transform="translate(138.3,493.6) scale(1.03,1)">0</text>
</g>
<text transform="translate(86.3,502.1) rotate(-90) scale(0.913,1)" font-size="20.6"><tspan x="-0.6" y="0">TERR</tspan><tspan x="57.4" y="9.3" font-size="16.6">M</tspan><tspan x="73.2" y="0">SL</tspan></text>
<g font-size="18.6" text-anchor="end">
<text transform="translate(160.9,509.3) rotate(-45) scale(1.045,1)">10/22</text>
<text transform="translate(202.6,509.3) rotate(-45) scale(1.045,1)">10/23</text>
<text transform="translate(244.4,509.3) rotate(-45) scale(1.045,1)">10/24</text>
<text transform="translate(286.1,509.3) rotate(-45) scale(1.045,1)">10/25</text>
<text transform="translate(327.9,509.3) rotate(-45) scale(1.045,1)">10/26</text>
<text transform="translate(369.6,509.3) rotate(-45) scale(1.045,1)">10/27</text>
</g>
<text transform="translate(250.7,575.8) scale(1.12,1)" font-size="20.6" text-anchor="middle">Time</text>
</g>
<g id="ax31">
<path d="M497.8 438.4v1.8M497.8 450.5v1.8M497.8 462.5v1.8M497.8 474.6v1.8M503.4 438.4v1.8M503.4 450.5v1.8M503.4 462.5v1.8M503.4 474.6v1.8M508.9 438.4v1.8M508.9 450.5v1.8M508.9 462.5v1.8M508.9 474.6v1.8M514.5 438.4v1.8M514.5 450.5v1.8M514.5 462.5v1.8M514.5 474.6v1.8M520.1 438.4v1.8M520.1 450.5v1.8M520.1 462.5v1.8M520.1 474.6v1.8M525.7 438.4v1.8M525.7 450.5v1.8M525.7 462.5v1.8M525.7 474.6v1.8M531.2 438.4v1.8M531.2 450.5v1.8M531.2 462.5v1.8M531.2 474.6v1.8M536.8 438.4v1.8M536.8 450.5v1.8M536.8 462.5v1.8M536.8 474.6v1.8M542.4 438.4v1.8M542.4 450.5v1.8M542.4 462.5v1.8M542.4 474.6v1.8M548.0 438.4v1.8M548.0 450.5v1.8M548.0 462.5v1.8M548.0 474.6v1.8M553.5 438.4v1.8M553.5 450.5v1.8M553.5 462.5v1.8M553.5 474.6v1.8M559.1 438.4v1.8M559.1 450.5v1.8M559.1 462.5v1.8M559.1 474.6v1.8M564.7 438.4v1.8M564.7 450.5v1.8M564.7 462.5v1.8M564.7 474.6v1.8M570.3 438.4v1.8M570.3 450.5v1.8M570.3 462.5v1.8M570.3 474.6v1.8M575.8 438.4v1.8M575.8 450.5v1.8M575.8 462.5v1.8M575.8 474.6v1.8M581.4 438.4v1.8M581.4 450.5v1.8M581.4 462.5v1.8M581.4 474.6v1.8M587.0 438.4v1.8M587.0 450.5v1.8M587.0 462.5v1.8M587.0 474.6v1.8M592.6 438.4v1.8M592.6 450.5v1.8M592.6 462.5v1.8M592.6 474.6v1.8M598.1 438.4v1.8M598.1 450.5v1.8M598.1 462.5v1.8M598.1 474.6v1.8M603.7 438.4v1.8M603.7 450.5v1.8M603.7 462.5v1.8M603.7 474.6v1.8M609.3 438.4v1.8M609.3 450.5v1.8M609.3 462.5v1.8M609.3 474.6v1.8M614.9 438.4v1.8M614.9 450.5v1.8M614.9 462.5v1.8M614.9 474.6v1.8M620.4 438.4v1.8M620.4 450.5v1.8M620.4 462.5v1.8M620.4 474.6v1.8M626.0 438.4v1.8M626.0 450.5v1.8M626.0 462.5v1.8M626.0 474.6v1.8M631.6 438.4v1.8M631.6 450.5v1.8M631.6 462.5v1.8M631.6 474.6v1.8M637.2 438.4v1.8M637.2 450.5v1.8M637.2 462.5v1.8M637.2 474.6v1.8M642.7 438.4v1.8M642.7 450.5v1.8M642.7 462.5v1.8M642.7 474.6v1.8M648.3 438.4v1.8M648.3 450.5v1.8M648.3 462.5v1.8M648.3 474.6v1.8M653.9 438.4v1.8M653.9 450.5v1.8M653.9 462.5v1.8M653.9 474.6v1.8M659.5 438.4v1.8M659.5 450.5v1.8M659.5 462.5v1.8M659.5 474.6v1.8M665.0 438.4v1.8M665.0 450.5v1.8M665.0 462.5v1.8M665.0 474.6v1.8M670.6 438.4v1.8M670.6 450.5v1.8M670.6 462.5v1.8M670.6 474.6v1.8M676.2 438.4v1.8M676.2 450.5v1.8M676.2 462.5v1.8M676.2 474.6v1.8M681.8 438.4v1.8M681.8 450.5v1.8M681.8 462.5v1.8M681.8 474.6v1.8M687.3 438.4v1.8M687.3 450.5v1.8M687.3 462.5v1.8M687.3 474.6v1.8M692.9 438.4v1.8M692.9 450.5v1.8M692.9 462.5v1.8M692.9 474.6v1.8" stroke="#bdbdbd" stroke-width="1.1" fill="none"/>
<path d="M532.2 427.3V487.5M573.8 427.3V487.5M615.5 427.3V487.5M657.1 427.3V487.5" stroke="#dcdcdc" stroke-width="1.7" fill="none"/>
<path d="M490.6 487.5v-3.6M490.6 427.3v3.6M532.2 487.5v-3.6M532.2 427.3v3.6M573.8 487.5v-3.6M573.8 427.3v3.6M615.5 487.5v-3.6M615.5 427.3v3.6M657.1 487.5v-3.6M657.1 427.3v3.6M698.7 487.5v-3.6M698.7 427.3v3.6M490.6 427.3h3.6M698.7 427.3h-3.6M490.6 487.5h3.6M698.7 487.5h-3.6" stroke="#262626" stroke-width="1.9" fill="none"/>
<rect x="490.6" y="427.3" width="208.1" height="60.2" fill="none" stroke="#262626" stroke-width="2.1"/>
<g fill="none" stroke="#0072BD" stroke-width="2.1">
<circle cx="495.6" cy="487.5" r="4"/><circle cx="497.3" cy="485.6" r="4"/><circle cx="499.0" cy="483.6" r="4"/><circle cx="500.8" cy="481.3" r="4"/><circle cx="502.5" cy="465.2" r="4"/><circle cx="504.2" cy="448.4" r="4"/><circle cx="506.0" cy="432.7" r="4"/><circle cx="507.7" cy="432.4" r="4"/><circle cx="509.4" cy="432.4" r="4"/><circle cx="511.2" cy="432.7" r="4"/><circle cx="512.9" cy="447.6" r="4"/><circle cx="514.6" cy="461.9" r="4"/><circle cx="516.4" cy="475.7" r="4"/><circle cx="518.1" cy="477.5" r="4"/><circle cx="519.8" cy="479.4" r="4"/><circle cx="521.6" cy="481.3" r="4"/><circle cx="523.3" cy="483.3" r="4"/><circle cx="525.0" cy="485.2" r="4"/><circle cx="526.8" cy="486.7" r="4"/><circle cx="528.5" cy="487.4" r="4"/><circle cx="530.2" cy="487.4" r="4"/><circle cx="532.0" cy="487.4" r="4"/><circle cx="533.7" cy="487.4" r="4"/><circle cx="535.4" cy="487.0" r="4"/><circle cx="537.2" cy="485.6" r="4"/><circle cx="538.9" cy="484.2" r="4"/><circle cx="540.6" cy="482.7" r="4"/><circle cx="542.4" cy="481.0" r="4"/><circle cx="544.1" cy="466.7" r="4"/><circle cx="545.8" cy="452.1" r="4"/><circle cx="547.6" cy="436.3" r="4"/><circle cx="549.3" cy="436.0" r="4"/><circle cx="551.0" cy="436.0" r="4"/><circle cx="552.8" cy="436.3" r="4"/><circle cx="554.5" cy="448.7" r="4"/><circle cx="556.2" cy="461.9" r="4"/><circle cx="558.0" cy="474.3" r="4"/><circle cx="559.7" cy="476.2" r="4"/><circle cx="561.5" cy="478.2" r="4"/><circle cx="563.2" cy="480.3" r="4"/><circle cx="564.9" cy="482.3" r="4"/><circle cx="566.7" cy="484.2" r="4"/><circle cx="568.4" cy="485.9" r="4"/><circle cx="570.1" cy="487.1" r="4"/><circle cx="571.9" cy="487.3" r="4"/><circle cx="573.6" cy="487.1" r="4"/><circle cx="575.3" cy="487.0" r="4"/><circle cx="577.1" cy="486.8" r="4"/><circle cx="578.8" cy="486.5" r="4"/><circle cx="580.5" cy="486.1" r="4"/><circle cx="582.3" cy="485.6" r="4"/><circle cx="584.0" cy="485.1" r="4"/><circle cx="585.7" cy="476.9" r="4"/><circle cx="587.5" cy="469.2" r="4"/><circle cx="589.2" cy="463.3" r="4"/><circle cx="590.9" cy="460.4" r="4"/><circle cx="592.7" cy="462.6" r="4"/><circle cx="594.4" cy="465.5" r="4"/><circle cx="596.1" cy="472.1" r="4"/><circle cx="597.9" cy="477.2" r="4"/><circle cx="599.6" cy="481.3" r="4"/><circle cx="601.3" cy="484.5" r="4"/><circle cx="603.1" cy="486.4" r="4"/><circle cx="604.8" cy="487.4" r="4"/><circle cx="606.5" cy="487.4" r="4"/><circle cx="608.3" cy="487.4" r="4"/><circle cx="610.0" cy="487.4" r="4"/><circle cx="611.7" cy="487.4" r="4"/><circle cx="613.5" cy="487.4" r="4"/><circle cx="615.2" cy="487.4" r="4"/><circle cx="616.9" cy="487.4" r="4"/><circle cx="618.7" cy="487.4" r="4"/><circle cx="620.4" cy="487.4" r="4"/><circle cx="622.1" cy="487.4" r="4"/><circle cx="623.9" cy="487.4" r="4"/><circle cx="625.6" cy="486.4" r="4"/><circle cx="627.3" cy="485.2" r="4"/><circle cx="629.1" cy="483.8" r="4"/><circle cx="630.8" cy="482.6" r="4"/><circle cx="632.6" cy="481.6" r="4"/><circle cx="634.3" cy="481.0" r="4"/><circle cx="636.0" cy="481.0" r="4"/><circle cx="637.8" cy="482.6" r="4"/><circle cx="639.5" cy="484.5" r="4"/><circle cx="641.2" cy="485.9" r="4"/><circle cx="643.0" cy="486.5" r="4"/><circle cx="644.7" cy="486.8" r="4"/><circle cx="646.4" cy="487.1" r="4"/><circle cx="648.2" cy="487.3" r="4"/><circle cx="649.9" cy="487.4" r="4"/><circle cx="651.6" cy="487.4" r="4"/><circle cx="653.4" cy="487.4" r="4"/><circle cx="655.1" cy="487.4" r="4"/><circle cx="656.8" cy="487.4" r="4"/><circle cx="658.6" cy="487.4" r="4"/><circle cx="660.3" cy="487.4" r="4"/><circle cx="662.0" cy="487.4" r="4"/>
</g>
<g font-size="18.6" text-anchor="end">
<text transform="translate(482.0,433.9) scale(1.03,1)">500</text>
<text transform="translate(482.0,494.1) scale(1.03,1)">0</text>
</g>
<text transform="translate(398.8,503.2) rotate(-90) scale(0.939,1)" font-size="20.6"><tspan x="-0.5" y="0">SUN</tspan><tspan x="48.2" y="8.5" font-size="16.6">F</tspan><tspan x="58.8" y="0">LUX</tspan></text>
<g font-size="18.6" text-anchor="end">
<text transform="translate(504.6,509.3) rotate(-45) scale(1.045,1)">10/22</text>
<text transform="translate(546.2,509.3) rotate(-45) scale(1.045,1)">10/23</text>
<text transform="translate(587.8,509.3) rotate(-45) scale(1.045,1)">10/24</text>
<text transform="translate(629.5,509.3) rotate(-45) scale(1.045,1)">10/25</text>
<text transform="translate(671.1,509.3) rotate(-45) scale(1.045,1)">10/26</text>
<text transform="translate(712.7,509.3) rotate(-45) scale(1.045,1)">10/27</text>
</g>
<text transform="translate(594.1,575.8) scale(1.12,1)" font-size="20.6" text-anchor="middle">Time</text>
</g>
<text transform="translate(251.6,31.7) scale(1.098,1)" font-size="20.3" font-weight="bold" text-anchor="middle" fill="#111">Figure 2 low</text>
</svg>
</body></html>
